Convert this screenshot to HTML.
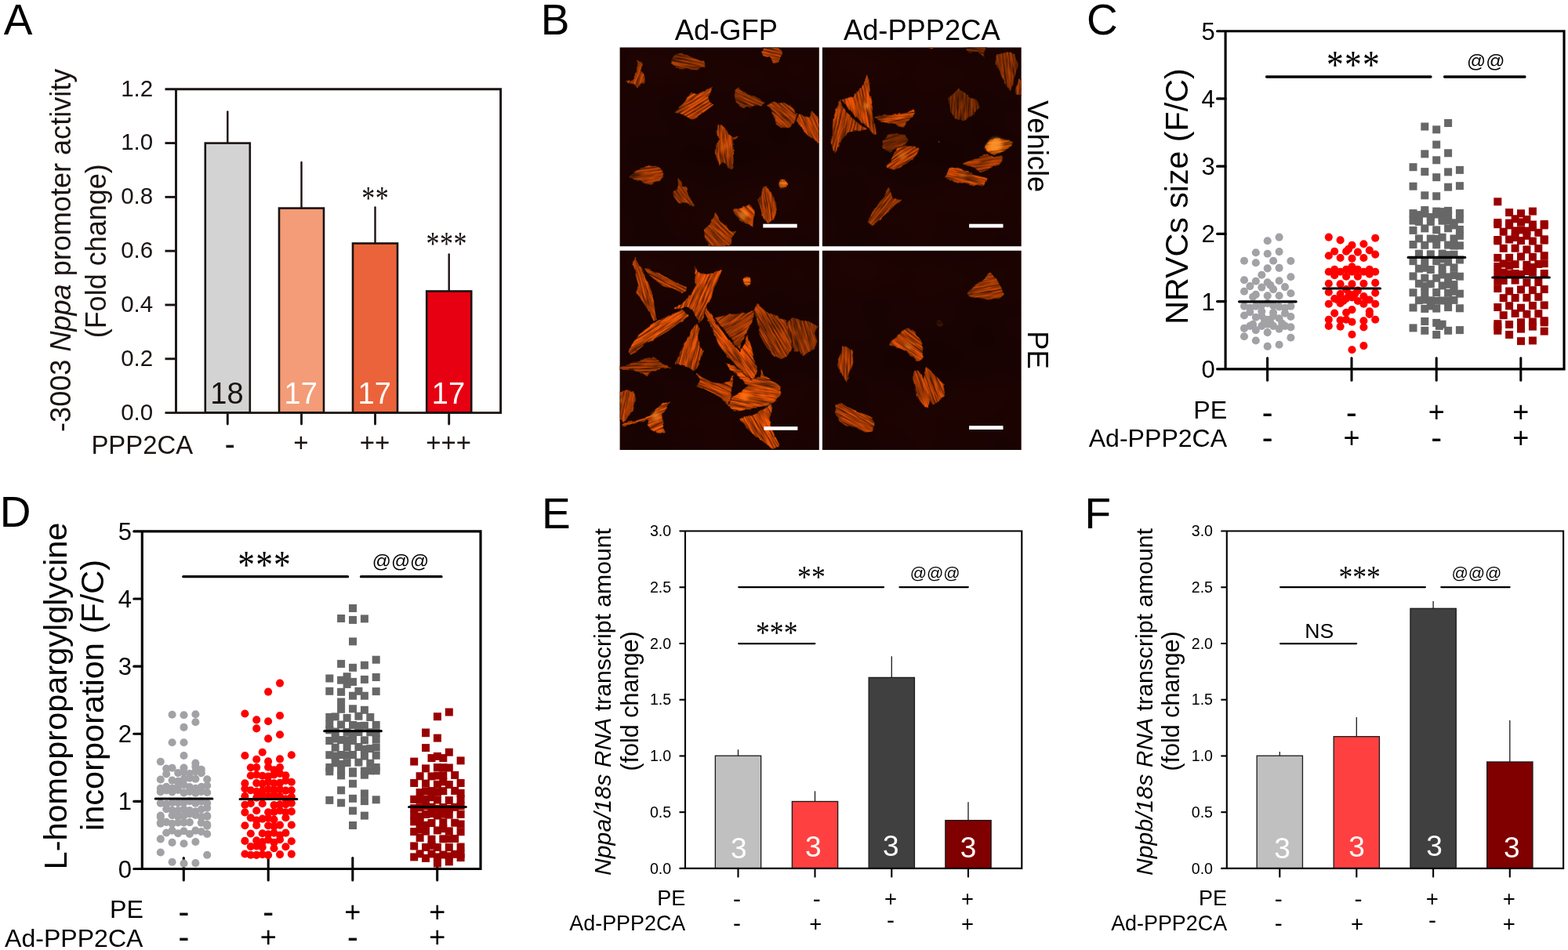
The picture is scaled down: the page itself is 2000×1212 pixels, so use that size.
<!DOCTYPE html>
<html><head><meta charset="utf-8"><title>Figure</title>
<style>
html,body{margin:0;padding:0;background:#fff;}
svg{display:block;font-family:"Liberation Sans", sans-serif;}
</style></head>
<body>
<svg width="2000" height="1212" viewBox="0 0 2000 1212">
<rect width="2000" height="1212" fill="#fff"/>
<text x="4.70" y="43.80" font-size="55" text-anchor="start" fill="#000">A</text>
<text x="689.70" y="43.60" font-size="55" text-anchor="start" fill="#000">B</text>
<text x="1386.00" y="44.30" font-size="55" text-anchor="start" fill="#000">C</text>
<text x="-0.30" y="672.20" font-size="55" text-anchor="start" fill="#000">D</text>
<text x="691.00" y="674.20" font-size="55" text-anchor="start" fill="#000">E</text>
<text x="1383.60" y="674.20" font-size="55" text-anchor="start" fill="#000">F</text>
<line x1="290.30" y1="142.50" x2="290.30" y2="182.60" stroke="#1a1311" stroke-width="2.4" stroke-linecap="round"/>
<rect x="261.80" y="182.60" width="57.00" height="344.00" fill="#d3d3d3" stroke="#1a1311" stroke-width="2.6"/>
<text x="289.50" y="515.20" font-size="38" text-anchor="middle" fill="#1a1311">18</text>
<line x1="384.50" y1="207.00" x2="384.50" y2="265.60" stroke="#1a1311" stroke-width="2.4" stroke-linecap="round"/>
<rect x="356.00" y="265.60" width="57.00" height="261.00" fill="#f39c77" stroke="#1a1311" stroke-width="2.6"/>
<text x="383.70" y="515.20" font-size="38" text-anchor="middle" fill="#fff">17</text>
<line x1="478.50" y1="264.50" x2="478.50" y2="310.50" stroke="#1a1311" stroke-width="2.4" stroke-linecap="round"/>
<rect x="450.00" y="310.50" width="57.00" height="216.10" fill="#eb633a" stroke="#1a1311" stroke-width="2.6"/>
<text x="477.70" y="515.20" font-size="38" text-anchor="middle" fill="#fff">17</text>
<line x1="572.70" y1="324.50" x2="572.70" y2="371.50" stroke="#1a1311" stroke-width="2.4" stroke-linecap="round"/>
<rect x="544.20" y="371.50" width="57.00" height="155.10" fill="#e60012" stroke="#1a1311" stroke-width="2.6"/>
<text x="571.90" y="515.20" font-size="38" text-anchor="middle" fill="#fff">17</text>
<path d="M210.5,113.75 H638.6 V526.6 H210.5 M224.5,113.75 V526.6" fill="none" stroke="#1a1311" stroke-width="2.9"/>
<line x1="210.50" y1="182.56" x2="224.50" y2="182.56" stroke="#1a1311" stroke-width="2.9" stroke-linecap="butt"/>
<line x1="210.50" y1="251.37" x2="224.50" y2="251.37" stroke="#1a1311" stroke-width="2.9" stroke-linecap="butt"/>
<line x1="210.50" y1="320.18" x2="224.50" y2="320.18" stroke="#1a1311" stroke-width="2.9" stroke-linecap="butt"/>
<line x1="210.50" y1="388.98" x2="224.50" y2="388.98" stroke="#1a1311" stroke-width="2.9" stroke-linecap="butt"/>
<line x1="210.50" y1="457.79" x2="224.50" y2="457.79" stroke="#1a1311" stroke-width="2.9" stroke-linecap="butt"/>
<text x="195.20" y="122.65" font-size="29.5" text-anchor="end" fill="#1a1311">1.2</text>
<text x="195.20" y="191.46" font-size="29.5" text-anchor="end" fill="#1a1311">1.0</text>
<text x="195.20" y="260.27" font-size="29.5" text-anchor="end" fill="#1a1311">0.8</text>
<text x="195.20" y="329.08" font-size="29.5" text-anchor="end" fill="#1a1311">0.6</text>
<text x="195.20" y="397.88" font-size="29.5" text-anchor="end" fill="#1a1311">0.4</text>
<text x="195.20" y="466.69" font-size="29.5" text-anchor="end" fill="#1a1311">0.2</text>
<text x="195.20" y="535.50" font-size="29.5" text-anchor="end" fill="#1a1311">0.0</text>
<line x1="290.30" y1="526.60" x2="290.30" y2="541.10" stroke="#1a1311" stroke-width="2.9" stroke-linecap="round"/>
<line x1="384.50" y1="526.60" x2="384.50" y2="541.10" stroke="#1a1311" stroke-width="2.9" stroke-linecap="round"/>
<line x1="478.50" y1="526.60" x2="478.50" y2="541.10" stroke="#1a1311" stroke-width="2.9" stroke-linecap="round"/>
<line x1="572.70" y1="526.60" x2="572.70" y2="541.10" stroke="#1a1311" stroke-width="2.9" stroke-linecap="round"/>
<text x="116.40" y="579.40" font-size="32.9" text-anchor="start" fill="#1a1311">PPP2CA</text>
<text x="293.30" y="579.72" font-size="37.9" text-anchor="middle" fill="#1a1311" stroke="#1a1311" stroke-width="0.40">-</text>
<text x="384.00" y="576.00" font-size="33" text-anchor="middle" fill="#1a1311">+</text>
<text x="478.00" y="576.00" font-size="33" text-anchor="middle" fill="#1a1311">++</text>
<text x="572.20" y="576.00" font-size="33" text-anchor="middle" fill="#1a1311">+++</text>
<text transform="translate(478.85 267.04) scale(1 1.25)" font-family="'Liberation Serif', serif" font-size="34" text-anchor="middle" fill="#1a1311" letter-spacing="0.5">**</text>
<text transform="translate(569.65 325.24) scale(1 1.25)" font-family="'Liberation Serif', serif" font-size="34" text-anchor="middle" fill="#1a1311" letter-spacing="0.5">***</text>
<text transform="translate(90.00 319.30) rotate(-90)" font-size="36.1" text-anchor="middle" fill="#1a1311">-3003 <tspan font-style="italic">Nppa</tspan> promoter activity</text>
<text transform="translate(134.60 320.30) rotate(-90)" font-size="36" text-anchor="middle" fill="#1a1311">(Fold change)</text>
<text x="926.40" y="51.30" font-size="36.3" text-anchor="middle" fill="#000">Ad-GFP</text>
<text x="1175.80" y="51.30" font-size="36.3" text-anchor="middle" fill="#000">Ad-PPP2CA</text>
<defs>
<filter id="cf" x="-8%" y="-8%" width="116%" height="116%" color-interpolation-filters="sRGB">
<feTurbulence type="fractalNoise" baseFrequency="0.09" numOctaves="2" seed="3" result="d"/>
<feDisplacementMap in="SourceGraphic" in2="d" scale="4.5" xChannelSelector="R" yChannelSelector="G" result="s"/>
<feGaussianBlur in="s" stdDeviation="0.55" result="b"/>
<feTurbulence type="fractalNoise" baseFrequency="0.035 0.5" numOctaves="3" seed="11" result="t"/>
<feColorMatrix in="t" type="matrix" values="2.1 0 0 0 -0.45  2.1 0 0 0 -0.45  2.1 0 0 0 -0.45  0 0 0 0 1" result="n"/>
<feComposite in="b" in2="n" operator="arithmetic" k1="0.7" k2="0.3" k3="0" k4="0"/>
</filter>
<filter id="bgf" x="0" y="0" width="100%" height="100%" color-interpolation-filters="sRGB">
<feTurbulence type="fractalNoise" baseFrequency="0.012" numOctaves="2" seed="5" result="t"/>
<feColorMatrix in="t" type="matrix" values="0.05 0 0 0 0.075  0.01 0 0 0 0.007  0.006 0 0 0 0.004  0 0 0 0 1"/>
</filter>
<filter id="hb" x="-50%" y="-50%" width="200%" height="200%"><feGaussianBlur stdDeviation="2.2"/></filter>
</defs>
<svg x="790.6" y="60.6" width="254.2" height="253.6" viewBox="-0.4 0.6 254.2 253.6" overflow="hidden">
<rect x="-2" y="-2" width="260" height="260" fill="#1a0302" filter="url(#bgf)"/>
<g transform="rotate(-70 21.5 38.2)" filter="url(#cf)"><polygon transform="rotate(70 21.5 38.2)" points="21.0,17.8 28.3,18.9 27.2,29.3 32.5,36.7 31.4,45.1 25.1,47.2 22.0,53.4 17.8,47.2 8.4,46.1 7.3,44.0 15.7,40.9 21.0,31.4" fill="#d64b05" stroke="#0c0100" stroke-width="1.6" stroke-linejoin="round" paint-order="stroke"/></g>
<g transform="rotate(11 84.2 19.6)" filter="url(#cf)"><polygon transform="rotate(-11 84.2 19.6)" points="65.0,15.7 70.2,9.4 78.6,7.3 90.1,12.6 109.0,19.9 109.0,26.2 98.5,28.3 83.8,27.2 72.3,27.2 66.0,22.0" fill="#b23f04" stroke="#0c0100" stroke-width="1.6" stroke-linejoin="round" paint-order="stroke"/></g>
<g transform="rotate(16 192.8 10.1)" filter="url(#cf)"><polygon transform="rotate(-16 192.8 10.1)" points="182.3,1.0 202.2,1.0 206.4,8.4 202.2,18.9 195.9,19.9 190.7,13.6 182.3,11.5 180.2,6.3" fill="#d64b05" stroke="#0c0100" stroke-width="1.6" stroke-linejoin="round" paint-order="stroke"/></g>
<g transform="rotate(-32 98.5 73.2)" filter="url(#cf)"><polygon transform="rotate(32 98.5 73.2)" points="69.2,82.8 80.7,71.3 91.2,57.6 98.5,59.7 118.4,50.3 113.2,62.9 114.2,70.2 119.5,73.3 109.0,81.7 98.5,90.1 90.1,92.2 79.6,85.9" fill="#ee5406" stroke="#0c0100" stroke-width="1.6" stroke-linejoin="round" paint-order="stroke"/></g>
<g transform="rotate(24 161.4 65.8)" filter="url(#cf)"><polygon transform="rotate(-24 161.4 65.8)" points="146.7,54.5 150.9,51.3 156.1,56.6 167.7,60.8 178.1,66.0 184.4,72.3 178.1,75.4 165.6,77.5 154.0,76.5 147.7,70.2 145.7,62.9" fill="#be4304" stroke="#0c0100" stroke-width="1.6" stroke-linejoin="round" paint-order="stroke"/></g>
<g transform="rotate(40 206.7 85.9)" filter="url(#cf)"><polygon transform="rotate(-40 206.7 85.9)" points="187.6,73.3 197.0,70.2 209.6,71.3 220.0,77.5 226.3,85.9 222.1,94.3 216.9,102.7 206.4,103.7 199.1,98.5 195.9,88.0 192.8,79.6" fill="#ca4705" stroke="#0c0100" stroke-width="1.6" stroke-linejoin="round" paint-order="stroke"/></g>
<g transform="rotate(66 240.5 98.4)" filter="url(#cf)"><polygon transform="rotate(-66 240.5 98.4)" points="224.2,94.3 228.4,84.9 241.0,90.1 244.2,80.7 254.0,92.2 254.0,123.6 243.1,114.2 234.7,106.9" fill="#e24f05" stroke="#0c0100" stroke-width="1.6" stroke-linejoin="round" paint-order="stroke"/></g>
<g transform="rotate(85 134.6 126.5)" filter="url(#cf)"><polygon transform="rotate(-85 134.6 126.5)" points="124.7,98.5 129.9,100.6 138.3,111.1 144.6,115.3 151.9,113.2 144.6,119.5 143.6,129.9 144.6,142.5 143.6,156.1 138.3,154.0 131.0,146.7 125.7,150.9 121.6,136.2 122.6,125.7 125.7,117.4 123.6,106.9" fill="#d64b05" stroke="#0c0100" stroke-width="1.6" stroke-linejoin="round" paint-order="stroke"/></g>
<g transform="rotate(-8 36.0 163.2)" filter="url(#cf)"><polygon transform="rotate(8 36.0 163.2)" points="11.5,164.5 21.0,157.2 33.5,150.9 46.1,150.9 53.4,156.1 55.5,162.4 51.3,170.8 38.8,176.0 29.3,172.9 19.9,169.8" fill="#ca4705" stroke="#0c0100" stroke-width="1.6" stroke-linejoin="round" paint-order="stroke"/></g>
<g transform="rotate(57 81.1 187.7)" filter="url(#cf)"><polygon transform="rotate(-57 81.1 187.7)" points="73.3,166.6 78.6,171.8 79.6,178.1 84.9,178.1 87.0,188.6 91.2,195.9 97.5,202.2 94.3,204.3 83.8,199.1 74.4,199.1 68.1,191.8 67.1,184.4 74.4,180.2" fill="#be4304" stroke="#0c0100" stroke-width="1.6" stroke-linejoin="round" paint-order="stroke"/></g>
<circle cx="207.9" cy="174.4" r="5.4" fill="#ff6006" filter="url(#cf)"/>
<g transform="rotate(82 187.5 200.1)" filter="url(#cf)"><polygon transform="rotate(-82 187.5 200.1)" points="182.3,176.0 187.6,178.1 192.8,188.6 199.1,197.0 200.1,207.5 194.9,220.0 188.6,225.3 182.3,218.0 179.2,207.5 175.0,194.9 180.2,188.6" fill="#e24f05" stroke="#0c0100" stroke-width="1.6" stroke-linejoin="round" paint-order="stroke"/></g>
<g transform="rotate(43 159.5 214.3)" filter="url(#cf)"><polygon transform="rotate(-43 159.5 214.3)" points="143.6,207.5 155.1,204.3 165.6,200.1 169.8,207.5 170.8,220.0 169.8,229.5 161.4,226.3 153.0,220.0 146.7,213.8" fill="#f95806" stroke="#0c0100" stroke-width="1.6" stroke-linejoin="round" paint-order="stroke"/></g>
<g transform="rotate(45 126.2 232.4)" filter="url(#cf)"><polygon transform="rotate(-45 126.2 232.4)" points="121.6,209.6 125.7,218.0 131.0,225.3 134.1,226.3 138.3,234.7 147.7,235.8 142.5,243.1 139.4,254.0 113.2,254.0 107.9,243.1 106.9,232.6 114.2,226.3 118.4,218.0" fill="#d64b05" stroke="#0c0100" stroke-width="1.6" stroke-linejoin="round" paint-order="stroke"/></g>
<g filter="url(#hb)"><circle cx="157.2" cy="213.8" r="5.9" fill="#ff9c2e" opacity="0.55"/><circle cx="134.1" cy="127.8" r="3.8" fill="#ff9c2e" opacity="0.3"/><circle cx="207.9" cy="174.4" r="3.8" fill="#ff9c2e" opacity="0.5"/></g>
<rect x="182.3" y="225.7" width="43.4" height="4.8" fill="#fff"/>
</svg>
<svg x="1048.9" y="60.6" width="253.8" height="253.6" viewBox="-1.1 0.6 253.8 253.6" overflow="hidden">
<rect x="-2" y="-2" width="260" height="260" fill="#1a0302" filter="url(#bgf)"/>
<g transform="rotate(80 50.6 74.6)" filter="url(#cf)"><polygon transform="rotate(-80 50.6 74.6)" points="55.5,34.6 58.7,41.9 59.7,62.9 62.9,79.6 68.1,111.1 65.0,112.1 54.5,100.6 41.9,90.1 31.4,79.6 24.1,67.1 37.7,62.9 48.2,52.4" fill="#ee5406" stroke="#0c0100" stroke-width="1.6" stroke-linejoin="round" paint-order="stroke"/></g>
<g transform="rotate(-78 25.7 103.2)" filter="url(#cf)"><polygon transform="rotate(78 25.7 103.2)" points="22.0,65.0 26.2,77.5 34.6,88.0 41.9,96.4 56.6,104.8 41.9,106.9 31.4,109.0 23.1,119.5 18.9,129.9 13.6,137.3 10.5,125.7 10.5,111.1 12.6,92.2 15.7,81.7" fill="#d64b05" stroke="#0c0100" stroke-width="1.6" stroke-linejoin="round" paint-order="stroke"/></g>
<g transform="rotate(-8 93.2 90.1)" filter="url(#cf)"><polygon transform="rotate(8 93.2 90.1)" points="66.0,89.1 77.5,85.9 94.3,85.9 106.9,83.8 115.3,78.6 117.4,83.8 109.0,94.3 101.6,101.6 90.1,98.5 77.5,96.4 69.2,93.3" fill="#ee5406" stroke="#0c0100" stroke-width="1.6" stroke-linejoin="round" paint-order="stroke"/></g>
<g transform="rotate(-18 91.2 121.3)" filter="url(#cf)"><polygon transform="rotate(18 91.2 121.3)" points="75.4,119.5 81.7,112.1 94.3,110.0 104.8,112.1 109.0,119.5 102.7,125.7 92.2,129.9 83.8,134.1 76.5,128.9" fill="#8e3203" stroke="#0c0100" stroke-width="1.6" stroke-linejoin="round" paint-order="stroke"/></g>
<g transform="rotate(-33 100.6 140.8)" filter="url(#cf)"><polygon transform="rotate(33 100.6 140.8)" points="92.2,129.9 104.8,125.7 117.4,125.7 122.6,129.9 119.5,136.2 113.2,144.6 104.8,150.9 92.2,156.1 83.8,155.1 80.7,154.0 85.9,144.6 90.1,136.2" fill="#e24f05" stroke="#0c0100" stroke-width="1.6" stroke-linejoin="round" paint-order="stroke"/></g>
<g transform="rotate(-88 178.6 75.4)" filter="url(#cf)"><polygon transform="rotate(88 178.6 75.4)" points="172.9,52.4 182.3,59.7 193.9,67.1 200.1,77.5 189.7,88.0 178.1,93.3 167.7,92.2 162.4,83.8 160.3,65.0" fill="#933403" stroke="#0c0100" stroke-width="1.6" stroke-linejoin="round" paint-order="stroke"/></g>
<g transform="rotate(82 235.0 28.7)" filter="url(#cf)"><polygon transform="rotate(-82 235.0 28.7)" points="222.1,9.4 234.7,6.3 245.2,10.5 249.4,21.0 245.2,35.6 241.0,48.2 237.9,57.6 231.6,46.1 224.2,31.4 219.0,21.0" fill="#a63a04" stroke="#0c0100" stroke-width="1.6" stroke-linejoin="round" paint-order="stroke"/></g>
<g transform="rotate(-88 249.8 51.1)" filter="url(#cf)"><polygon transform="rotate(88 249.8 51.1)" points="249.4,40.9 254.0,44.0 254.0,62.9 244.2,57.6 247.3,50.3" fill="#be4304" stroke="#0c0100" stroke-width="1.6" stroke-linejoin="round" paint-order="stroke"/></g>
<g transform="rotate(9 195.8 5.1)" filter="url(#cf)"><polygon transform="rotate(-9 195.8 5.1)" points="180.2,2.1 188.6,0.0 207.5,0.0 204.3,6.3 206.4,12.6 197.0,7.3 186.5,7.3" fill="#8e3203" stroke="#0c0100" stroke-width="1.6" stroke-linejoin="round" paint-order="stroke"/></g>
<circle cx="137.3" cy="1.3" r="2.3" fill="#d64b05" filter="url(#cf)"/>
<g transform="rotate(-9 220.9 126.3)" filter="url(#cf)"><polygon transform="rotate(9 220.9 126.3)" points="206.4,125.7 211.7,119.5 220.0,115.3 230.5,117.4 243.1,121.6 236.8,128.9 228.4,134.1 218.0,137.3 209.6,134.1 204.3,128.9" fill="#ff6907" stroke="#0c0100" stroke-width="1.6" stroke-linejoin="round" paint-order="stroke"/></g>
<g transform="rotate(-10 205.0 147.0)" filter="url(#cf)"><polygon transform="rotate(10 205.0 147.0)" points="177.1,148.8 188.6,144.6 201.2,139.4 209.6,136.2 218.0,140.4 228.4,138.3 229.5,144.6 222.1,150.9 209.6,156.1 199.1,159.3 192.8,154.0 184.4,150.9" fill="#ca4705" stroke="#0c0100" stroke-width="1.6" stroke-linejoin="round" paint-order="stroke"/></g>
<g transform="rotate(13 182.5 166.2)" filter="url(#cf)"><polygon transform="rotate(-13 182.5 166.2)" points="156.1,165.6 161.4,153.0 171.8,155.1 184.4,159.3 199.1,163.5 209.6,167.7 206.4,176.0 192.8,177.1 178.1,173.9 165.6,170.8" fill="#ee5406" stroke="#0c0100" stroke-width="1.6" stroke-linejoin="round" paint-order="stroke"/></g>
<g transform="rotate(-51 78.7 202.5)" filter="url(#cf)"><polygon transform="rotate(51 78.7 202.5)" points="83.8,179.2 88.0,186.5 90.1,192.8 100.6,194.9 92.2,201.2 83.8,209.6 73.3,219.0 62.9,228.4 56.6,223.2 62.9,209.6 71.3,197.0 78.6,188.6" fill="#be4304" stroke="#0c0100" stroke-width="1.6" stroke-linejoin="round" paint-order="stroke"/></g>
<circle cx="147.7" cy="120.7" r="1.0" fill="#d64b05" filter="url(#cf)"/>
<g filter="url(#hb)"><circle cx="220.0" cy="124.7" r="8.4" fill="#ff9c2e" opacity="0.8"/><circle cx="211.7" cy="127.8" r="4.2" fill="#ff9c2e" opacity="0.5"/><circle cx="54.9" cy="75.0" r="3.4" fill="#ff9c2e" opacity="0.7"/><circle cx="100.6" cy="138.3" r="5.2" fill="#ff9c2e" opacity="0.35"/><circle cx="178.1" cy="163.5" r="4.2" fill="#ff9c2e" opacity="0.3"/></g>
<rect x="186.1" y="225.7" width="43.4" height="4.8" fill="#fff"/>
</svg>
<svg x="790.6" y="319.8" width="254.2" height="254.1" viewBox="-0.4 -0.2 254.2 254.1" overflow="hidden">
<rect x="-2" y="-2" width="260" height="260" fill="#1a0302" filter="url(#bgf)"/>
<g transform="rotate(73 30.4 49.9)" filter="url(#cf)"><polygon transform="rotate(-73 30.4 49.9)" points="18.9,6.3 23.1,14.7 29.3,27.2 35.6,39.8 40.9,54.5 44.0,71.3 46.1,88.0 43.0,90.1 37.7,79.6 31.4,69.2 26.2,60.8 19.9,52.4 23.1,44.0 19.9,31.4 16.8,18.9" fill="#ee5406" stroke="#0c0100" stroke-width="1.6" stroke-linejoin="round" paint-order="stroke"/></g>
<g transform="rotate(27 58.5 38.8)" filter="url(#cf)"><polygon transform="rotate(-27 58.5 38.8)" points="30.4,22.0 37.7,23.1 54.5,31.4 71.3,40.9 83.8,46.1 84.9,50.3 79.6,53.4 67.1,48.2 54.5,45.1 44.0,36.7 35.6,29.3" fill="#d64b05" stroke="#0c0100" stroke-width="1.6" stroke-linejoin="round" paint-order="stroke"/></g>
<g transform="rotate(-67 100.6 55.9)" filter="url(#cf)"><polygon transform="rotate(67 100.6 55.9)" points="93.3,18.9 98.5,25.1 106.9,30.4 119.5,28.3 131.0,23.1 125.7,35.6 119.5,48.2 116.3,60.8 111.1,69.2 109.0,79.6 104.8,88.0 100.6,92.2 96.4,83.8 92.2,75.4 83.8,72.3 75.4,73.3 68.1,73.3 79.6,65.0 90.1,56.6 96.4,44.0 95.4,31.4" fill="#f95806" stroke="#0c0100" stroke-width="1.6" stroke-linejoin="round" paint-order="stroke"/></g>
<g transform="rotate(-34 46.8 102.6)" filter="url(#cf)"><polygon transform="rotate(34 46.8 102.6)" points="79.6,75.4 88.0,80.7 83.8,85.9 73.3,93.3 60.8,102.7 46.1,111.1 31.4,119.5 18.9,129.9 12.6,133.1 11.5,127.8 15.7,117.4 21.0,109.0 31.4,100.6 44.0,92.2 58.7,83.8 71.3,78.6" fill="#ff5c06" stroke="#0c0100" stroke-width="1.6" stroke-linejoin="round" paint-order="stroke"/></g>
<g transform="rotate(-76 91.4 126.7)" filter="url(#cf)"><polygon transform="rotate(76 91.4 126.7)" points="96.4,93.3 100.6,100.6 99.5,111.1 102.7,121.6 106.9,127.8 102.7,136.2 100.6,146.7 94.3,154.0 88.0,148.8 79.6,144.6 69.2,144.6 73.3,136.2 79.6,123.6 85.9,111.1 91.2,100.6" fill="#ee5406" stroke="#0c0100" stroke-width="1.6" stroke-linejoin="round" paint-order="stroke"/></g>
<g transform="rotate(-34 149.6 95.5)" filter="url(#cf)"><polygon transform="rotate(34 149.6 95.5)" points="119.5,85.9 134.1,81.7 150.9,79.6 165.6,78.6 172.9,76.5 169.8,88.0 163.5,100.6 157.2,113.2 153.0,125.7 144.6,117.4 136.2,104.8 127.8,94.3" fill="#ca4705" stroke="#0c0100" stroke-width="1.6" stroke-linejoin="round" paint-order="stroke"/></g>
<g transform="rotate(53 142.2 119.4)" filter="url(#cf)"><polygon transform="rotate(-53 142.2 119.4)" points="107.9,72.3 113.2,77.5 121.6,90.1 132.0,104.8 142.5,119.5 153.0,127.8 159.3,117.4 162.4,106.9 167.7,123.6 170.8,136.2 173.9,150.9 171.8,165.6 163.5,167.7 155.1,155.1 146.7,144.6 136.2,134.1 125.7,119.5 119.5,104.8 113.2,90.1 107.9,79.6" fill="#f95806" stroke="#0c0100" stroke-width="1.6" stroke-linejoin="round" paint-order="stroke"/></g>
<g transform="rotate(60 195.0 103.1)" filter="url(#cf)"><polygon transform="rotate(-60 195.0 103.1)" points="173.9,67.1 180.2,72.3 188.6,79.6 201.2,83.8 211.7,90.1 215.9,100.6 220.0,113.2 219.0,125.7 213.8,134.1 205.4,138.3 197.0,134.1 188.6,125.7 182.3,115.3 176.0,102.7 173.9,90.1 171.8,77.5" fill="#ca4705" stroke="#0c0100" stroke-width="1.6" stroke-linejoin="round" paint-order="stroke"/></g>
<g transform="rotate(74 232.1 109.9)" filter="url(#cf)"><polygon transform="rotate(-74 232.1 109.9)" points="211.7,92.2 220.0,84.9 230.5,88.0 241.0,90.1 252.5,96.4 247.3,104.8 250.4,115.3 248.3,125.7 241.0,127.8 232.6,136.2 228.4,127.8 222.1,129.9 219.0,119.5 220.0,109.0 215.9,100.6" fill="#b23f04" stroke="#0c0100" stroke-width="1.6" stroke-linejoin="round" paint-order="stroke"/></g>
<g transform="rotate(-2 30.6 148.9)" filter="url(#cf)"><polygon transform="rotate(2 30.6 148.9)" points="0.0,147.7 12.6,144.6 25.1,139.4 44.0,136.2 50.3,142.5 65.0,148.8 52.4,150.9 39.8,154.0 33.5,161.4 27.2,157.2 16.8,151.9 0.0,151.9" fill="#be4304" stroke="#0c0100" stroke-width="1.6" stroke-linejoin="round" paint-order="stroke"/></g>
<g transform="rotate(24 123.6 173.9)" filter="url(#cf)"><polygon transform="rotate(-24 123.6 173.9)" points="96.4,156.1 104.8,161.4 117.4,167.7 129.9,169.8 138.3,165.6 145.7,158.2 142.5,169.8 141.5,182.3 144.6,192.8 138.3,199.1 129.9,188.6 119.5,182.3 106.9,176.0 97.5,172.9 101.6,165.6" fill="#ee5406" stroke="#0c0100" stroke-width="1.6" stroke-linejoin="round" paint-order="stroke"/></g>
<g transform="rotate(11 166.8 174.5)" filter="url(#cf)"><polygon transform="rotate(-11 166.8 174.5)" points="134.1,144.6 146.7,146.7 159.3,159.3 167.7,165.6 178.1,161.4 180.2,150.9 184.4,159.3 194.9,165.6 204.3,171.8 205.4,182.3 197.0,192.8 184.4,199.1 167.7,201.2 155.1,204.3 144.6,205.4 138.3,197.0 142.5,186.5 155.1,180.2 163.5,171.8 155.1,163.5 144.6,155.1" fill="#ff5c06" stroke="#0c0100" stroke-width="1.6" stroke-linejoin="round" paint-order="stroke"/></g>
<g transform="rotate(-82 9.6 197.7)" filter="url(#cf)"><polygon transform="rotate(82 9.6 197.7)" points="0.0,180.2 8.4,178.1 16.8,180.2 19.9,190.7 16.8,203.3 10.5,213.8 4.2,219.0 0.0,215.9" fill="#e24f05" stroke="#0c0100" stroke-width="1.6" stroke-linejoin="round" paint-order="stroke"/></g>
<g transform="rotate(-22 39.8 215.3)" filter="url(#cf)"><polygon transform="rotate(22 39.8 215.3)" points="62.9,191.8 58.7,201.2 54.5,209.6 55.5,222.1 56.6,232.6 48.2,233.7 39.8,228.4 34.6,222.1 36.7,215.9 21.0,220.0 3.1,223.2 4.2,220.0 23.1,215.9 37.7,211.7 46.1,201.2 54.5,194.9" fill="#ff5c06" stroke="#0c0100" stroke-width="1.6" stroke-linejoin="round" paint-order="stroke"/></g>
<g transform="rotate(61 182.4 222.3)" filter="url(#cf)"><polygon transform="rotate(-61 182.4 222.3)" points="190.7,194.9 194.9,201.2 190.7,213.8 192.8,226.3 199.1,238.9 204.3,249.4 194.9,251.5 182.3,243.1 169.8,234.7 159.3,224.2 153.0,213.8 163.5,211.7 173.9,207.5 184.4,201.2" fill="#f95806" stroke="#0c0100" stroke-width="1.6" stroke-linejoin="round" paint-order="stroke"/></g>
<circle cx="161.8" cy="38.8" r="5.7" fill="#ff5c06" filter="url(#cf)"/>
<g filter="url(#hb)"><circle cx="45.1" cy="210.6" r="5.0" fill="#ff9c2e" opacity="0.6"/><circle cx="189.7" cy="197.0" r="2.1" fill="#ff9c2e" opacity="0.7"/><circle cx="159.3" cy="186.5" r="5.2" fill="#ff9c2e" opacity="0.35"/><circle cx="161.8" cy="38.8" r="3.8" fill="#ff9c2e" opacity="0.4"/><circle cx="1.0" cy="191.8" r="2.5" fill="#ff9c2e" opacity="0.5"/></g>
<rect x="183.4" y="224.2" width="43.0" height="4.6" fill="#fff"/>
</svg>
<svg x="1048.9" y="319.8" width="253.8" height="254.1" viewBox="-1.1 -0.2 253.8 254.1" overflow="hidden">
<rect x="-2" y="-2" width="260" height="260" fill="#1a0302" filter="url(#bgf)"/>
<g transform="rotate(-10 207.3 49.7)" filter="url(#cf)"><polygon transform="rotate(10 207.3 49.7)" points="213.8,27.2 219.0,34.6 226.3,47.2 231.6,56.6 225.3,60.8 209.6,61.8 194.9,59.7 185.5,58.7 182.3,54.5 190.7,47.2 201.2,38.8" fill="#ca4705" stroke="#0c0100" stroke-width="1.6" stroke-linejoin="round" paint-order="stroke"/></g>
<g transform="rotate(36 108.2 119.2)" filter="url(#cf)"><polygon transform="rotate(-36 108.2 119.2)" points="109.0,97.5 117.4,103.7 123.6,113.2 127.8,125.7 127.8,136.2 119.5,140.4 113.2,134.1 104.8,127.8 96.4,123.6 83.8,120.5 85.9,116.3 94.3,109.0 102.7,101.6" fill="#e24f05" stroke="#0c0100" stroke-width="1.6" stroke-linejoin="round" paint-order="stroke"/></g>
<g transform="rotate(-90 27.9 143.6)" filter="url(#cf)"><polygon transform="rotate(90 27.9 143.6)" points="24.1,122.6 31.4,121.6 36.7,127.8 38.8,142.5 34.6,150.9 32.5,161.4 29.3,166.6 25.1,161.4 22.0,153.0 16.8,146.7 19.9,138.3 23.1,129.9" fill="#d64b05" stroke="#0c0100" stroke-width="1.6" stroke-linejoin="round" paint-order="stroke"/></g>
<g transform="rotate(70 133.1 174.7)" filter="url(#cf)"><polygon transform="rotate(-70 133.1 174.7)" points="131.0,147.7 138.3,154.0 146.7,162.4 155.1,171.8 154.0,184.4 146.7,192.8 140.4,197.0 136.2,190.7 134.1,200.1 128.9,199.1 121.6,188.6 116.3,173.9 114.2,161.4 116.3,154.0 121.6,153.0 127.8,163.5" fill="#e24f05" stroke="#0c0100" stroke-width="1.6" stroke-linejoin="round" paint-order="stroke"/></g>
<g transform="rotate(28 39.6 213.4)" filter="url(#cf)"><polygon transform="rotate(-28 39.6 213.4)" points="15.7,195.9 25.1,193.9 35.6,201.2 48.2,206.4 60.8,211.7 66.0,219.0 62.9,230.5 54.5,231.6 41.9,226.3 29.3,222.1 19.9,215.9 14.7,206.4" fill="#e24f05" stroke="#0c0100" stroke-width="1.6" stroke-linejoin="round" paint-order="stroke"/></g>
<circle cx="148.2" cy="92.2" r="3.8" fill="#471901" filter="url(#cf)"/>
<g filter="url(#hb)"><circle cx="109.0" cy="121.6" r="5.2" fill="#ff9c2e" opacity="0.3"/></g>
<rect x="186.1" y="223.2" width="43.4" height="4.8" fill="#fff"/>
</svg>
<text transform="translate(1310.50 186.60) rotate(90)" font-size="36.3" text-anchor="middle" fill="#000">Vehicle</text>
<text transform="translate(1310.50 446.50) rotate(90)" font-size="36.3" text-anchor="middle" fill="#000">PE</text>
<path d="M1552.6,39.7 H1995 V470.8 H1552.6 M1563.1,39.7 V470.8" fill="none" stroke="#000" stroke-width="3.15" stroke-linecap="round"/>
<line x1="1552.60" y1="125.92" x2="1563.10" y2="125.92" stroke="#000" stroke-width="3.15" stroke-linecap="round"/>
<line x1="1552.60" y1="212.14" x2="1563.10" y2="212.14" stroke="#000" stroke-width="3.15" stroke-linecap="round"/>
<line x1="1552.60" y1="298.36" x2="1563.10" y2="298.36" stroke="#000" stroke-width="3.15" stroke-linecap="round"/>
<line x1="1552.60" y1="384.58" x2="1563.10" y2="384.58" stroke="#000" stroke-width="3.15" stroke-linecap="round"/>
<text x="1549.80" y="50.70" font-size="31" text-anchor="end" fill="#000">5</text>
<text x="1549.80" y="136.92" font-size="31" text-anchor="end" fill="#000">4</text>
<text x="1549.80" y="223.14" font-size="31" text-anchor="end" fill="#000">3</text>
<text x="1549.80" y="309.36" font-size="31" text-anchor="end" fill="#000">2</text>
<text x="1549.80" y="395.58" font-size="31" text-anchor="end" fill="#000">1</text>
<text x="1549.80" y="481.80" font-size="31" text-anchor="end" fill="#000">0</text>
<line x1="1616.60" y1="456.80" x2="1616.60" y2="485.30" stroke="#000" stroke-width="3.05" stroke-linecap="round"/>
<line x1="1724.00" y1="456.80" x2="1724.00" y2="485.30" stroke="#000" stroke-width="3.05" stroke-linecap="round"/>
<line x1="1832.20" y1="456.80" x2="1832.20" y2="485.30" stroke="#000" stroke-width="3.05" stroke-linecap="round"/>
<line x1="1939.80" y1="456.80" x2="1939.80" y2="485.30" stroke="#000" stroke-width="3.05" stroke-linecap="round"/>
<g fill="#a2a2a6"><circle cx="1631.6" cy="302.6" r="5.05"/><circle cx="1616.7" cy="307.2" r="5.05"/><circle cx="1601.8" cy="322.3" r="5.05"/><circle cx="1616.7" cy="323.8" r="5.05"/><circle cx="1631.6" cy="321.1" r="5.05"/><circle cx="1587.0" cy="332.7" r="5.05"/><circle cx="1601.8" cy="335.3" r="5.05"/><circle cx="1624.1" cy="332.7" r="5.05"/><circle cx="1646.4" cy="333.0" r="5.05"/><circle cx="1616.7" cy="342.4" r="5.05"/><circle cx="1631.6" cy="341.9" r="5.05"/><circle cx="1609.3" cy="350.8" r="5.05"/><circle cx="1587.0" cy="357.2" r="5.05"/><circle cx="1601.8" cy="358.7" r="5.05"/><circle cx="1616.7" cy="360.2" r="5.05"/><circle cx="1631.6" cy="358.3" r="5.05"/><circle cx="1646.4" cy="353.2" r="5.05"/><circle cx="1594.4" cy="365.1" r="5.05"/><circle cx="1609.3" cy="366.6" r="5.05"/><circle cx="1620.4" cy="363.9" r="5.05"/><circle cx="1624.1" cy="369.1" r="5.05"/><circle cx="1639.0" cy="366.1" r="5.05"/><circle cx="1587.0" cy="371.8" r="5.05"/><circle cx="1601.8" cy="375.8" r="5.05"/><circle cx="1616.7" cy="377.3" r="5.05"/><circle cx="1631.6" cy="377.3" r="5.05"/><circle cx="1646.4" cy="374.3" r="5.05"/><circle cx="1598.1" cy="378.8" r="5.05"/><circle cx="1587.0" cy="390.6" r="5.05"/><circle cx="1594.4" cy="392.9" r="5.05"/><circle cx="1601.8" cy="390.6" r="5.05"/><circle cx="1609.3" cy="389.2" r="5.05"/><circle cx="1616.7" cy="386.9" r="5.05"/><circle cx="1624.1" cy="389.9" r="5.05"/><circle cx="1631.6" cy="391.4" r="5.05"/><circle cx="1639.0" cy="392.9" r="5.05"/><circle cx="1646.4" cy="390.6" r="5.05"/><circle cx="1594.4" cy="398.1" r="5.05"/><circle cx="1609.3" cy="397.3" r="5.05"/><circle cx="1624.1" cy="398.8" r="5.05"/><circle cx="1639.0" cy="399.6" r="5.05"/><circle cx="1587.0" cy="402.5" r="5.05"/><circle cx="1601.8" cy="404.8" r="5.05"/><circle cx="1616.7" cy="407.7" r="5.05"/><circle cx="1631.6" cy="406.2" r="5.05"/><circle cx="1646.4" cy="404.0" r="5.05"/><circle cx="1609.3" cy="403.3" r="5.05"/><circle cx="1624.1" cy="403.3" r="5.05"/><circle cx="1613.0" cy="410.0" r="5.05"/><circle cx="1620.4" cy="411.4" r="5.05"/><circle cx="1598.1" cy="413.7" r="5.05"/><circle cx="1635.3" cy="412.9" r="5.05"/><circle cx="1587.0" cy="418.9" r="5.05"/><circle cx="1594.4" cy="415.9" r="5.05"/><circle cx="1601.8" cy="421.1" r="5.05"/><circle cx="1609.3" cy="415.9" r="5.05"/><circle cx="1616.7" cy="413.7" r="5.05"/><circle cx="1624.1" cy="415.9" r="5.05"/><circle cx="1631.6" cy="419.6" r="5.05"/><circle cx="1639.0" cy="415.9" r="5.05"/><circle cx="1646.4" cy="417.4" r="5.05"/><circle cx="1616.7" cy="424.1" r="5.05"/><circle cx="1587.0" cy="429.3" r="5.05"/><circle cx="1646.4" cy="430.8" r="5.05"/><circle cx="1601.8" cy="434.5" r="5.05"/><circle cx="1631.6" cy="439.7" r="5.05"/><circle cx="1616.7" cy="441.9" r="5.05"/></g>
<g fill="#ff0000"><circle cx="1694.8" cy="302.6" r="5.05"/><circle cx="1694.8" cy="326.3" r="5.05"/><circle cx="1694.8" cy="346.8" r="5.05"/><circle cx="1694.8" cy="361.7" r="5.05"/><circle cx="1694.8" cy="372.8" r="5.05"/><circle cx="1694.8" cy="387.7" r="5.05"/><circle cx="1694.8" cy="407.7" r="5.05"/><circle cx="1694.8" cy="415.9" r="5.05"/><circle cx="1702.2" cy="320.8" r="5.05"/><circle cx="1702.2" cy="343.9" r="5.05"/><circle cx="1702.2" cy="351.3" r="5.05"/><circle cx="1702.2" cy="381.0" r="5.05"/><circle cx="1702.2" cy="399.6" r="5.05"/><circle cx="1709.6" cy="306.4" r="5.05"/><circle cx="1709.6" cy="329.0" r="5.05"/><circle cx="1709.6" cy="346.8" r="5.05"/><circle cx="1709.6" cy="362.4" r="5.05"/><circle cx="1709.6" cy="375.1" r="5.05"/><circle cx="1709.6" cy="386.9" r="5.05"/><circle cx="1709.6" cy="408.5" r="5.05"/><circle cx="1709.6" cy="416.6" r="5.05"/><circle cx="1717.1" cy="320.8" r="5.05"/><circle cx="1717.1" cy="343.9" r="5.05"/><circle cx="1717.1" cy="352.8" r="5.05"/><circle cx="1717.1" cy="369.1" r="5.05"/><circle cx="1717.1" cy="381.0" r="5.05"/><circle cx="1717.1" cy="398.8" r="5.05"/><circle cx="1717.1" cy="407.7" r="5.05"/><circle cx="1724.5" cy="312.7" r="5.05"/><circle cx="1724.5" cy="329.8" r="5.05"/><circle cx="1724.5" cy="340.2" r="5.05"/><circle cx="1724.5" cy="346.8" r="5.05"/><circle cx="1724.5" cy="362.4" r="5.05"/><circle cx="1724.5" cy="379.5" r="5.05"/><circle cx="1724.5" cy="395.1" r="5.05"/><circle cx="1724.5" cy="410.7" r="5.05"/><circle cx="1724.5" cy="426.7" r="5.05"/><circle cx="1724.5" cy="446.3" r="5.05"/><circle cx="1731.9" cy="321.6" r="5.05"/><circle cx="1731.9" cy="343.9" r="5.05"/><circle cx="1731.9" cy="352.8" r="5.05"/><circle cx="1731.9" cy="370.6" r="5.05"/><circle cx="1731.9" cy="384.0" r="5.05"/><circle cx="1739.4" cy="311.2" r="5.05"/><circle cx="1739.4" cy="329.0" r="5.05"/><circle cx="1739.4" cy="346.8" r="5.05"/><circle cx="1739.4" cy="361.7" r="5.05"/><circle cx="1739.4" cy="378.0" r="5.05"/><circle cx="1739.4" cy="387.7" r="5.05"/><circle cx="1739.4" cy="409.2" r="5.05"/><circle cx="1739.4" cy="417.4" r="5.05"/><circle cx="1739.4" cy="441.1" r="5.05"/><circle cx="1746.8" cy="319.4" r="5.05"/><circle cx="1746.8" cy="343.9" r="5.05"/><circle cx="1746.8" cy="349.8" r="5.05"/><circle cx="1746.8" cy="382.5" r="5.05"/><circle cx="1746.8" cy="397.3" r="5.05"/><circle cx="1746.8" cy="401.0" r="5.05"/><circle cx="1754.2" cy="303.8" r="5.05"/><circle cx="1754.2" cy="324.6" r="5.05"/><circle cx="1754.2" cy="346.8" r="5.05"/><circle cx="1754.2" cy="360.9" r="5.05"/><circle cx="1754.2" cy="373.6" r="5.05"/><circle cx="1754.2" cy="387.7" r="5.05"/><circle cx="1754.2" cy="407.7" r="5.05"/><circle cx="1720.0" cy="317.9" r="5.05"/><circle cx="1705.9" cy="382.5" r="5.05"/><circle cx="1713.4" cy="384.0" r="5.05"/><circle cx="1743.1" cy="382.5" r="5.05"/><circle cx="1720.8" cy="375.1" r="5.05"/><circle cx="1728.2" cy="375.1" r="5.05"/></g>
<g fill="#676767"><rect x="1842.1" y="152.0" width="10" height="10"/><rect x="1842.1" y="190.3" width="10" height="10"/><rect x="1842.1" y="214.4" width="10" height="10"/><rect x="1842.1" y="233.7" width="10" height="10"/><rect x="1842.1" y="263.9" width="10" height="10"/><rect x="1842.1" y="276.2" width="10" height="10"/><rect x="1812.3" y="156.5" width="10" height="10"/><rect x="1812.3" y="191.4" width="10" height="10"/><rect x="1812.3" y="214.1" width="10" height="10"/><rect x="1812.3" y="244.3" width="10" height="10"/><rect x="1812.3" y="263.1" width="10" height="10"/><rect x="1827.2" y="160.3" width="10" height="10"/><rect x="1827.2" y="179.5" width="10" height="10"/><rect x="1827.2" y="199.3" width="10" height="10"/><rect x="1827.2" y="221.2" width="10" height="10"/><rect x="1827.2" y="245.3" width="10" height="10"/><rect x="1827.2" y="264.6" width="10" height="10"/><rect x="1797.5" y="208.2" width="10" height="10"/><rect x="1797.5" y="232.7" width="10" height="10"/><rect x="1797.5" y="276.5" width="10" height="10"/><rect x="1856.9" y="211.9" width="10" height="10"/><rect x="1856.9" y="232.2" width="10" height="10"/><rect x="1856.9" y="274.7" width="10" height="10"/><rect x="1804.9" y="269.1" width="10" height="10"/><rect x="1819.8" y="272.0" width="10" height="10"/><rect x="1834.6" y="272.0" width="10" height="10"/><rect x="1849.5" y="282.4" width="10" height="10"/><rect x="1812.3" y="405.0" width="10" height="10"/><rect x="1812.3" y="416.8" width="10" height="10"/><rect x="1797.5" y="413.4" width="10" height="10"/><rect x="1827.2" y="406.9" width="10" height="10"/><rect x="1827.2" y="422.0" width="10" height="10"/><rect x="1834.6" y="408.7" width="10" height="10"/><rect x="1842.1" y="416.8" width="10" height="10"/><rect x="1856.9" y="416.1" width="10" height="10"/><rect x="1830.9" y="410.9" width="10" height="10"/><rect x="1797.5" y="267.1" width="10" height="10"/><rect x="1812.3" y="267.5" width="10" height="10"/><rect x="1827.2" y="268.5" width="10" height="10"/><rect x="1834.6" y="265.1" width="10" height="10"/><rect x="1842.1" y="269.2" width="10" height="10"/><rect x="1856.9" y="267.0" width="10" height="10"/><rect x="1804.9" y="277.9" width="10" height="10"/><rect x="1819.8" y="277.9" width="10" height="10"/><rect x="1834.6" y="276.7" width="10" height="10"/><rect x="1849.5" y="279.3" width="10" height="10"/><rect x="1797.5" y="288.9" width="10" height="10"/><rect x="1812.3" y="286.4" width="10" height="10"/><rect x="1827.2" y="288.3" width="10" height="10"/><rect x="1842.1" y="286.3" width="10" height="10"/><rect x="1856.9" y="287.9" width="10" height="10"/><rect x="1804.9" y="299.4" width="10" height="10"/><rect x="1819.8" y="299.5" width="10" height="10"/><rect x="1827.2" y="299.8" width="10" height="10"/><rect x="1834.6" y="297.8" width="10" height="10"/><rect x="1849.5" y="299.4" width="10" height="10"/><rect x="1856.9" y="295.8" width="10" height="10"/><rect x="1797.5" y="307.0" width="10" height="10"/><rect x="1812.3" y="307.8" width="10" height="10"/><rect x="1827.2" y="307.3" width="10" height="10"/><rect x="1842.1" y="307.6" width="10" height="10"/><rect x="1849.5" y="308.5" width="10" height="10"/><rect x="1856.9" y="308.3" width="10" height="10"/><rect x="1804.9" y="318.7" width="10" height="10"/><rect x="1819.8" y="319.3" width="10" height="10"/><rect x="1834.6" y="318.6" width="10" height="10"/><rect x="1842.1" y="320.2" width="10" height="10"/><rect x="1849.5" y="319.7" width="10" height="10"/><rect x="1797.5" y="328.2" width="10" height="10"/><rect x="1812.3" y="327.0" width="10" height="10"/><rect x="1827.2" y="328.3" width="10" height="10"/><rect x="1834.6" y="325.4" width="10" height="10"/><rect x="1842.1" y="329.3" width="10" height="10"/><rect x="1856.9" y="326.5" width="10" height="10"/><rect x="1804.9" y="337.7" width="10" height="10"/><rect x="1812.3" y="336.8" width="10" height="10"/><rect x="1819.8" y="339.0" width="10" height="10"/><rect x="1834.6" y="336.4" width="10" height="10"/><rect x="1849.5" y="336.4" width="10" height="10"/><rect x="1797.5" y="347.4" width="10" height="10"/><rect x="1812.3" y="349.7" width="10" height="10"/><rect x="1827.2" y="349.8" width="10" height="10"/><rect x="1834.6" y="345.5" width="10" height="10"/><rect x="1842.1" y="348.4" width="10" height="10"/><rect x="1849.5" y="346.2" width="10" height="10"/><rect x="1856.9" y="347.7" width="10" height="10"/><rect x="1804.9" y="356.8" width="10" height="10"/><rect x="1812.3" y="360.2" width="10" height="10"/><rect x="1819.8" y="357.3" width="10" height="10"/><rect x="1834.6" y="359.4" width="10" height="10"/><rect x="1842.1" y="357.8" width="10" height="10"/><rect x="1849.5" y="358.1" width="10" height="10"/><rect x="1797.5" y="368.3" width="10" height="10"/><rect x="1812.3" y="368.4" width="10" height="10"/><rect x="1827.2" y="368.0" width="10" height="10"/><rect x="1842.1" y="368.8" width="10" height="10"/><rect x="1849.5" y="366.8" width="10" height="10"/><rect x="1856.9" y="369.7" width="10" height="10"/><rect x="1804.9" y="378.2" width="10" height="10"/><rect x="1812.3" y="377.5" width="10" height="10"/><rect x="1819.8" y="378.3" width="10" height="10"/><rect x="1827.2" y="378.7" width="10" height="10"/><rect x="1834.6" y="378.5" width="10" height="10"/><rect x="1842.1" y="378.8" width="10" height="10"/><rect x="1849.5" y="377.9" width="10" height="10"/><rect x="1797.5" y="387.5" width="10" height="10"/><rect x="1812.3" y="388.9" width="10" height="10"/><rect x="1819.8" y="385.4" width="10" height="10"/><rect x="1827.2" y="388.6" width="10" height="10"/><rect x="1842.1" y="387.1" width="10" height="10"/><rect x="1856.9" y="388.3" width="10" height="10"/></g>
<g fill="#990000"><rect x="1905.3" y="252.3" width="10" height="10"/><rect x="1920.1" y="266.1" width="10" height="10"/><rect x="1935.0" y="267.3" width="10" height="10"/><rect x="1949.9" y="264.6" width="10" height="10"/><rect x="1905.3" y="281.2" width="10" height="10"/><rect x="1920.1" y="282.4" width="10" height="10"/><rect x="1935.0" y="288.4" width="10" height="10"/><rect x="1949.9" y="285.1" width="10" height="10"/><rect x="1964.7" y="282.4" width="10" height="10"/><rect x="1927.6" y="274.3" width="10" height="10"/><rect x="1942.4" y="275.0" width="10" height="10"/><rect x="1905.3" y="301.0" width="10" height="10"/><rect x="1964.7" y="300.3" width="10" height="10"/><rect x="1927.6" y="298.0" width="10" height="10"/><rect x="1942.4" y="295.8" width="10" height="10"/><rect x="1935.0" y="430.2" width="10" height="10"/><rect x="1949.9" y="429.5" width="10" height="10"/><rect x="1905.3" y="411.6" width="10" height="10"/><rect x="1905.3" y="416.8" width="10" height="10"/><rect x="1964.7" y="404.2" width="10" height="10"/><rect x="1964.7" y="417.6" width="10" height="10"/><rect x="1920.1" y="422.0" width="10" height="10"/><rect x="1935.0" y="414.6" width="10" height="10"/><rect x="1949.9" y="411.6" width="10" height="10"/><rect x="1905.3" y="279.0" width="10" height="10"/><rect x="1920.1" y="279.6" width="10" height="10"/><rect x="1935.0" y="278.4" width="10" height="10"/><rect x="1949.9" y="281.5" width="10" height="10"/><rect x="1964.7" y="281.0" width="10" height="10"/><rect x="1912.7" y="290.7" width="10" height="10"/><rect x="1927.6" y="289.4" width="10" height="10"/><rect x="1942.4" y="289.6" width="10" height="10"/><rect x="1957.3" y="291.8" width="10" height="10"/><rect x="1905.3" y="302.3" width="10" height="10"/><rect x="1920.1" y="300.5" width="10" height="10"/><rect x="1935.0" y="302.0" width="10" height="10"/><rect x="1949.9" y="302.6" width="10" height="10"/><rect x="1964.7" y="301.6" width="10" height="10"/><rect x="1912.7" y="311.8" width="10" height="10"/><rect x="1927.6" y="311.7" width="10" height="10"/><rect x="1942.4" y="313.4" width="10" height="10"/><rect x="1957.3" y="312.0" width="10" height="10"/><rect x="1905.3" y="323.9" width="10" height="10"/><rect x="1920.1" y="323.8" width="10" height="10"/><rect x="1935.0" y="322.4" width="10" height="10"/><rect x="1949.9" y="322.8" width="10" height="10"/><rect x="1964.7" y="321.2" width="10" height="10"/><rect x="1905.3" y="334.9" width="10" height="10"/><rect x="1912.7" y="331.4" width="10" height="10"/><rect x="1920.1" y="333.8" width="10" height="10"/><rect x="1927.6" y="332.2" width="10" height="10"/><rect x="1942.4" y="332.9" width="10" height="10"/><rect x="1949.9" y="336.0" width="10" height="10"/><rect x="1957.3" y="331.9" width="10" height="10"/><rect x="1964.7" y="331.2" width="10" height="10"/><rect x="1905.3" y="344.1" width="10" height="10"/><rect x="1912.7" y="342.7" width="10" height="10"/><rect x="1920.1" y="344.5" width="10" height="10"/><rect x="1927.6" y="344.0" width="10" height="10"/><rect x="1935.0" y="345.1" width="10" height="10"/><rect x="1942.4" y="341.0" width="10" height="10"/><rect x="1949.9" y="342.6" width="10" height="10"/><rect x="1964.7" y="344.0" width="10" height="10"/><rect x="1905.3" y="353.2" width="10" height="10"/><rect x="1912.7" y="353.0" width="10" height="10"/><rect x="1927.6" y="352.6" width="10" height="10"/><rect x="1942.4" y="355.6" width="10" height="10"/><rect x="1957.3" y="355.0" width="10" height="10"/><rect x="1905.3" y="363.1" width="10" height="10"/><rect x="1920.1" y="366.5" width="10" height="10"/><rect x="1935.0" y="364.5" width="10" height="10"/><rect x="1949.9" y="365.2" width="10" height="10"/><rect x="1964.7" y="364.1" width="10" height="10"/><rect x="1912.7" y="375.2" width="10" height="10"/><rect x="1927.6" y="375.0" width="10" height="10"/><rect x="1942.4" y="374.8" width="10" height="10"/><rect x="1957.3" y="373.8" width="10" height="10"/><rect x="1905.3" y="387.0" width="10" height="10"/><rect x="1920.1" y="385.2" width="10" height="10"/><rect x="1935.0" y="387.7" width="10" height="10"/><rect x="1949.9" y="384.9" width="10" height="10"/><rect x="1964.7" y="384.4" width="10" height="10"/><rect x="1912.7" y="397.2" width="10" height="10"/><rect x="1927.6" y="394.9" width="10" height="10"/><rect x="1942.4" y="395.7" width="10" height="10"/><rect x="1957.3" y="395.2" width="10" height="10"/><rect x="1905.3" y="408.2" width="10" height="10"/><rect x="1920.1" y="409.0" width="10" height="10"/><rect x="1935.0" y="406.3" width="10" height="10"/><rect x="1949.9" y="405.5" width="10" height="10"/><rect x="1964.7" y="406.3" width="10" height="10"/></g>
<line x1="1580.60" y1="384.80" x2="1653.10" y2="384.80" stroke="#000" stroke-width="3.2" stroke-linecap="round"/>
<line x1="1688.00" y1="368.00" x2="1760.50" y2="368.00" stroke="#000" stroke-width="3.2" stroke-linecap="round"/>
<line x1="1796.20" y1="328.40" x2="1868.70" y2="328.40" stroke="#000" stroke-width="3.2" stroke-linecap="round"/>
<line x1="1903.80" y1="354.00" x2="1976.30" y2="354.00" stroke="#000" stroke-width="3.2" stroke-linecap="round"/>
<line x1="1615.50" y1="98.00" x2="1825.00" y2="98.00" stroke="#000" stroke-width="3.3" stroke-linecap="round"/>
<line x1="1842.50" y1="98.00" x2="1945.00" y2="98.00" stroke="#000" stroke-width="3.3" stroke-linecap="round"/>
<text transform="translate(1726.40 99.39) scale(1 1.15)" font-family="'Liberation Serif', serif" font-size="43.5" text-anchor="middle" fill="#000" letter-spacing="1.2">***</text>
<text x="1895.20" y="86.10" font-size="23.8" text-anchor="middle" fill="#000">@@</text>
<text x="1565.20" y="533.60" font-size="32.2" text-anchor="end" fill="#000">PE</text>
<text x="1565.20" y="570.40" font-size="32.1" text-anchor="end" fill="#000">Ad-PPP2CA</text>
<text x="1616.60" y="540.04" font-size="41.4" text-anchor="middle" fill="#000" stroke="#000" stroke-width="0.14">-</text>
<text x="1616.60" y="572.24" font-size="41.4" text-anchor="middle" fill="#000" stroke="#000" stroke-width="0.14">-</text>
<text x="1724.00" y="540.04" font-size="41.4" text-anchor="middle" fill="#000" stroke="#000" stroke-width="0.14">-</text>
<text x="1724.00" y="570.80" font-size="36" text-anchor="middle" fill="#000">+</text>
<text x="1832.20" y="538.00" font-size="36" text-anchor="middle" fill="#000">+</text>
<text x="1832.20" y="572.24" font-size="41.4" text-anchor="middle" fill="#000" stroke="#000" stroke-width="0.14">-</text>
<text x="1939.80" y="538.00" font-size="36" text-anchor="middle" fill="#000">+</text>
<text x="1939.80" y="570.80" font-size="36" text-anchor="middle" fill="#000">+</text>
<text transform="translate(1514.60 250.60) rotate(-90)" font-size="41.2" text-anchor="middle" fill="#000">NRVCs size (F/C)</text>
<path d="M170.8,677.9 H613 V1108.5 H170.8 M181.3,677.9 V1108.5" fill="none" stroke="#000" stroke-width="3.15" stroke-linecap="round"/>
<line x1="170.80" y1="764.02" x2="181.30" y2="764.02" stroke="#000" stroke-width="3.15" stroke-linecap="round"/>
<line x1="170.80" y1="850.14" x2="181.30" y2="850.14" stroke="#000" stroke-width="3.15" stroke-linecap="round"/>
<line x1="170.80" y1="936.26" x2="181.30" y2="936.26" stroke="#000" stroke-width="3.15" stroke-linecap="round"/>
<line x1="170.80" y1="1022.38" x2="181.30" y2="1022.38" stroke="#000" stroke-width="3.15" stroke-linecap="round"/>
<text x="168.00" y="688.90" font-size="31" text-anchor="end" fill="#000">5</text>
<text x="168.00" y="775.02" font-size="31" text-anchor="end" fill="#000">4</text>
<text x="168.00" y="861.14" font-size="31" text-anchor="end" fill="#000">3</text>
<text x="168.00" y="947.26" font-size="31" text-anchor="end" fill="#000">2</text>
<text x="168.00" y="1033.38" font-size="31" text-anchor="end" fill="#000">1</text>
<text x="168.00" y="1119.50" font-size="31" text-anchor="end" fill="#000">0</text>
<line x1="234.30" y1="1094.50" x2="234.30" y2="1123.00" stroke="#000" stroke-width="3.05" stroke-linecap="round"/>
<line x1="342.20" y1="1094.50" x2="342.20" y2="1123.00" stroke="#000" stroke-width="3.05" stroke-linecap="round"/>
<line x1="449.80" y1="1094.50" x2="449.80" y2="1123.00" stroke="#000" stroke-width="3.05" stroke-linecap="round"/>
<line x1="557.70" y1="1094.50" x2="557.70" y2="1123.00" stroke="#000" stroke-width="3.05" stroke-linecap="round"/>
<g fill="#a2a2a6"><circle cx="219.6" cy="911.7" r="5.05"/><circle cx="234.5" cy="912.3" r="5.05"/><circle cx="249.4" cy="911.2" r="5.05"/><circle cx="249.4" cy="921.3" r="5.05"/><circle cx="234.5" cy="927.9" r="5.05"/><circle cx="219.6" cy="947.2" r="5.05"/><circle cx="234.5" cy="947.2" r="5.05"/><circle cx="234.5" cy="964.0" r="5.05"/><circle cx="204.8" cy="971.7" r="5.05"/><circle cx="249.4" cy="973.6" r="5.05"/><circle cx="204.8" cy="1070.4" r="5.05"/><circle cx="219.6" cy="1074.9" r="5.05"/><circle cx="234.5" cy="1076.3" r="5.05"/><circle cx="249.4" cy="1074.0" r="5.05"/><circle cx="204.8" cy="1087.5" r="5.05"/><circle cx="264.2" cy="1090.8" r="5.05"/><circle cx="219.6" cy="1099.7" r="5.05"/><circle cx="234.5" cy="1101.6" r="5.05"/><circle cx="249.4" cy="1101.1" r="5.05"/><circle cx="212.2" cy="1062.5" r="5.05"/><circle cx="219.6" cy="1059.6" r="5.05"/><circle cx="227.1" cy="1063.3" r="5.05"/><circle cx="234.5" cy="1060.3" r="5.05"/><circle cx="241.9" cy="1064.0" r="5.05"/><circle cx="249.4" cy="1059.6" r="5.05"/><circle cx="256.8" cy="1061.0" r="5.05"/><circle cx="264.2" cy="1064.0" r="5.05"/><circle cx="264.2" cy="1053.6" r="5.05"/><circle cx="264.2" cy="1041.7" r="5.05"/><circle cx="204.8" cy="1042.5" r="5.05"/><circle cx="204.8" cy="1050.6" r="5.05"/><circle cx="212.2" cy="980.5" r="5.05"/><circle cx="219.6" cy="979.7" r="5.05"/><circle cx="234.5" cy="979.6" r="5.05"/><circle cx="249.4" cy="977.9" r="5.05"/><circle cx="256.8" cy="981.7" r="5.05"/><circle cx="212.2" cy="987.4" r="5.05"/><circle cx="227.1" cy="986.1" r="5.05"/><circle cx="234.5" cy="985.5" r="5.05"/><circle cx="241.9" cy="987.1" r="5.05"/><circle cx="249.4" cy="984.1" r="5.05"/><circle cx="256.8" cy="986.3" r="5.05"/><circle cx="204.8" cy="994.5" r="5.05"/><circle cx="219.6" cy="995.6" r="5.05"/><circle cx="227.1" cy="996.8" r="5.05"/><circle cx="234.5" cy="994.1" r="5.05"/><circle cx="241.9" cy="992.8" r="5.05"/><circle cx="249.4" cy="993.8" r="5.05"/><circle cx="264.2" cy="994.3" r="5.05"/><circle cx="204.8" cy="1005.9" r="5.05"/><circle cx="212.2" cy="1003.9" r="5.05"/><circle cx="219.6" cy="1005.8" r="5.05"/><circle cx="227.1" cy="1003.1" r="5.05"/><circle cx="234.5" cy="1001.2" r="5.05"/><circle cx="241.9" cy="1004.1" r="5.05"/><circle cx="249.4" cy="1005.8" r="5.05"/><circle cx="256.8" cy="1003.9" r="5.05"/><circle cx="264.2" cy="1002.2" r="5.05"/><circle cx="204.8" cy="1010.2" r="5.05"/><circle cx="212.2" cy="1008.4" r="5.05"/><circle cx="219.6" cy="1010.5" r="5.05"/><circle cx="227.1" cy="1008.0" r="5.05"/><circle cx="234.5" cy="1011.4" r="5.05"/><circle cx="241.9" cy="1009.9" r="5.05"/><circle cx="249.4" cy="1011.8" r="5.05"/><circle cx="256.8" cy="1009.9" r="5.05"/><circle cx="264.2" cy="1011.0" r="5.05"/><circle cx="204.8" cy="1024.6" r="5.05"/><circle cx="212.2" cy="1025.9" r="5.05"/><circle cx="219.6" cy="1024.0" r="5.05"/><circle cx="227.1" cy="1024.2" r="5.05"/><circle cx="234.5" cy="1023.9" r="5.05"/><circle cx="241.9" cy="1022.2" r="5.05"/><circle cx="249.4" cy="1024.8" r="5.05"/><circle cx="256.8" cy="1022.5" r="5.05"/><circle cx="264.2" cy="1024.8" r="5.05"/><circle cx="212.2" cy="1032.1" r="5.05"/><circle cx="219.6" cy="1033.8" r="5.05"/><circle cx="227.1" cy="1034.1" r="5.05"/><circle cx="234.5" cy="1032.4" r="5.05"/><circle cx="241.9" cy="1034.1" r="5.05"/><circle cx="249.4" cy="1035.2" r="5.05"/><circle cx="256.8" cy="1032.5" r="5.05"/><circle cx="264.2" cy="1030.7" r="5.05"/><circle cx="204.8" cy="1040.5" r="5.05"/><circle cx="219.6" cy="1040.2" r="5.05"/><circle cx="227.1" cy="1041.8" r="5.05"/><circle cx="234.5" cy="1040.7" r="5.05"/><circle cx="241.9" cy="1038.4" r="5.05"/><circle cx="249.4" cy="1039.9" r="5.05"/><circle cx="256.8" cy="1042.1" r="5.05"/><circle cx="264.2" cy="1040.8" r="5.05"/><circle cx="204.8" cy="1049.5" r="5.05"/><circle cx="212.2" cy="1048.9" r="5.05"/><circle cx="219.6" cy="1050.8" r="5.05"/><circle cx="227.1" cy="1049.5" r="5.05"/><circle cx="234.5" cy="1049.4" r="5.05"/><circle cx="241.9" cy="1049.1" r="5.05"/><circle cx="256.8" cy="1049.6" r="5.05"/><circle cx="264.2" cy="1051.9" r="5.05"/></g>
<g fill="#ff0000"><circle cx="357.0" cy="871.6" r="5.05"/><circle cx="342.1" cy="882.6" r="5.05"/><circle cx="312.4" cy="910.5" r="5.05"/><circle cx="357.0" cy="913.0" r="5.05"/><circle cx="327.2" cy="918.4" r="5.05"/><circle cx="342.1" cy="920.2" r="5.05"/><circle cx="327.2" cy="929.4" r="5.05"/><circle cx="357.0" cy="937.2" r="5.05"/><circle cx="342.1" cy="942.4" r="5.05"/><circle cx="334.7" cy="959.8" r="5.05"/><circle cx="312.4" cy="964.0" r="5.05"/><circle cx="371.8" cy="963.2" r="5.05"/><circle cx="327.2" cy="968.7" r="5.05"/><circle cx="357.0" cy="968.4" r="5.05"/><circle cx="342.1" cy="971.4" r="5.05"/><circle cx="319.8" cy="979.2" r="5.05"/><circle cx="327.2" cy="979.1" r="5.05"/><circle cx="342.1" cy="978.8" r="5.05"/><circle cx="349.5" cy="982.4" r="5.05"/><circle cx="357.0" cy="979.0" r="5.05"/><circle cx="319.8" cy="989.5" r="5.05"/><circle cx="327.2" cy="988.5" r="5.05"/><circle cx="334.7" cy="989.7" r="5.05"/><circle cx="342.1" cy="990.6" r="5.05"/><circle cx="349.5" cy="988.4" r="5.05"/><circle cx="357.0" cy="986.9" r="5.05"/><circle cx="364.4" cy="989.2" r="5.05"/><circle cx="312.4" cy="999.4" r="5.05"/><circle cx="327.2" cy="999.1" r="5.05"/><circle cx="334.7" cy="999.9" r="5.05"/><circle cx="342.1" cy="997.4" r="5.05"/><circle cx="349.5" cy="999.4" r="5.05"/><circle cx="357.0" cy="998.9" r="5.05"/><circle cx="364.4" cy="995.9" r="5.05"/><circle cx="371.8" cy="997.8" r="5.05"/><circle cx="312.4" cy="1006.3" r="5.05"/><circle cx="319.8" cy="1008.3" r="5.05"/><circle cx="327.2" cy="1009.9" r="5.05"/><circle cx="334.7" cy="1008.5" r="5.05"/><circle cx="342.1" cy="1006.9" r="5.05"/><circle cx="349.5" cy="1007.6" r="5.05"/><circle cx="357.0" cy="1007.1" r="5.05"/><circle cx="364.4" cy="1008.6" r="5.05"/><circle cx="371.8" cy="1008.2" r="5.05"/><circle cx="312.4" cy="1015.9" r="5.05"/><circle cx="327.2" cy="1017.7" r="5.05"/><circle cx="334.7" cy="1013.8" r="5.05"/><circle cx="342.1" cy="1015.8" r="5.05"/><circle cx="349.5" cy="1013.9" r="5.05"/><circle cx="357.0" cy="1015.8" r="5.05"/><circle cx="364.4" cy="1019.3" r="5.05"/><circle cx="371.8" cy="1016.6" r="5.05"/><circle cx="312.4" cy="1026.8" r="5.05"/><circle cx="319.8" cy="1025.0" r="5.05"/><circle cx="334.7" cy="1025.2" r="5.05"/><circle cx="349.5" cy="1027.1" r="5.05"/><circle cx="357.0" cy="1026.3" r="5.05"/><circle cx="364.4" cy="1026.3" r="5.05"/><circle cx="371.8" cy="1024.6" r="5.05"/><circle cx="312.4" cy="1036.4" r="5.05"/><circle cx="327.2" cy="1034.3" r="5.05"/><circle cx="342.1" cy="1036.3" r="5.05"/><circle cx="349.5" cy="1035.9" r="5.05"/><circle cx="357.0" cy="1034.1" r="5.05"/><circle cx="364.4" cy="1036.2" r="5.05"/><circle cx="371.8" cy="1035.4" r="5.05"/><circle cx="319.8" cy="1043.4" r="5.05"/><circle cx="327.2" cy="1046.6" r="5.05"/><circle cx="334.7" cy="1044.6" r="5.05"/><circle cx="342.1" cy="1043.8" r="5.05"/><circle cx="349.5" cy="1045.6" r="5.05"/><circle cx="364.4" cy="1043.2" r="5.05"/><circle cx="312.4" cy="1053.2" r="5.05"/><circle cx="327.2" cy="1052.9" r="5.05"/><circle cx="342.1" cy="1053.2" r="5.05"/><circle cx="349.5" cy="1054.4" r="5.05"/><circle cx="357.0" cy="1052.6" r="5.05"/><circle cx="371.8" cy="1052.5" r="5.05"/><circle cx="319.8" cy="1063.5" r="5.05"/><circle cx="334.7" cy="1063.3" r="5.05"/><circle cx="342.1" cy="1064.2" r="5.05"/><circle cx="349.5" cy="1062.6" r="5.05"/><circle cx="357.0" cy="1065.6" r="5.05"/><circle cx="364.4" cy="1062.6" r="5.05"/><circle cx="312.4" cy="1072.9" r="5.05"/><circle cx="327.2" cy="1072.4" r="5.05"/><circle cx="334.7" cy="1074.1" r="5.05"/><circle cx="342.1" cy="1071.4" r="5.05"/><circle cx="349.5" cy="1074.9" r="5.05"/><circle cx="357.0" cy="1071.2" r="5.05"/><circle cx="371.8" cy="1073.2" r="5.05"/><circle cx="319.8" cy="1080.0" r="5.05"/><circle cx="327.2" cy="1079.5" r="5.05"/><circle cx="334.7" cy="1080.9" r="5.05"/><circle cx="349.5" cy="1082.3" r="5.05"/><circle cx="364.4" cy="1080.3" r="5.05"/><circle cx="312.4" cy="1089.5" r="5.05"/><circle cx="319.8" cy="1090.7" r="5.05"/><circle cx="327.2" cy="1090.9" r="5.05"/><circle cx="334.7" cy="1090.1" r="5.05"/><circle cx="342.1" cy="1090.9" r="5.05"/><circle cx="357.0" cy="1090.1" r="5.05"/><circle cx="371.8" cy="1089.6" r="5.05"/></g>
<g fill="#676767"><rect x="445.0" y="771.0" width="10" height="10"/><rect x="430.1" y="784.0" width="10" height="10"/><rect x="445.0" y="785.9" width="10" height="10"/><rect x="459.9" y="784.4" width="10" height="10"/><rect x="445.0" y="813.4" width="10" height="10"/><rect x="474.7" y="836.7" width="10" height="10"/><rect x="430.1" y="841.9" width="10" height="10"/><rect x="459.9" y="843.7" width="10" height="10"/><rect x="445.0" y="846.8" width="10" height="10"/><rect x="415.3" y="860.5" width="10" height="10"/><rect x="474.7" y="859.0" width="10" height="10"/><rect x="430.1" y="862.7" width="10" height="10"/><rect x="437.6" y="858.2" width="10" height="10"/><rect x="445.0" y="864.9" width="10" height="10"/><rect x="437.6" y="867.9" width="10" height="10"/><rect x="459.9" y="861.9" width="10" height="10"/><rect x="415.3" y="876.8" width="10" height="10"/><rect x="430.1" y="877.8" width="10" height="10"/><rect x="474.7" y="877.1" width="10" height="10"/><rect x="452.4" y="876.8" width="10" height="10"/><rect x="445.0" y="882.7" width="10" height="10"/><rect x="459.9" y="882.7" width="10" height="10"/><rect x="430.1" y="890.5" width="10" height="10"/><rect x="430.1" y="984.4" width="10" height="10"/><rect x="459.9" y="983.7" width="10" height="10"/><rect x="445.0" y="994.8" width="10" height="10"/><rect x="430.1" y="1003.3" width="10" height="10"/><rect x="459.9" y="1007.4" width="10" height="10"/><rect x="459.9" y="1017.1" width="10" height="10"/><rect x="415.3" y="1015.9" width="10" height="10"/><rect x="445.0" y="1013.8" width="10" height="10"/><rect x="474.7" y="1015.3" width="10" height="10"/><rect x="430.1" y="1019.3" width="10" height="10"/><rect x="445.0" y="1029.4" width="10" height="10"/><rect x="459.9" y="1035.6" width="10" height="10"/><rect x="445.0" y="1048.0" width="10" height="10"/><rect x="445.0" y="981.4" width="10" height="10"/><rect x="415.3" y="974.0" width="10" height="10"/><rect x="474.7" y="974.0" width="10" height="10"/><rect x="430.1" y="899.8" width="10" height="10"/><rect x="445.0" y="899.3" width="10" height="10"/><rect x="459.9" y="900.8" width="10" height="10"/><rect x="415.3" y="909.9" width="10" height="10"/><rect x="422.7" y="909.4" width="10" height="10"/><rect x="437.6" y="910.9" width="10" height="10"/><rect x="452.4" y="908.7" width="10" height="10"/><rect x="467.3" y="910.0" width="10" height="10"/><rect x="415.3" y="919.1" width="10" height="10"/><rect x="430.1" y="919.5" width="10" height="10"/><rect x="445.0" y="920.0" width="10" height="10"/><rect x="452.4" y="921.2" width="10" height="10"/><rect x="459.9" y="920.8" width="10" height="10"/><rect x="474.7" y="919.9" width="10" height="10"/><rect x="415.3" y="926.4" width="10" height="10"/><rect x="422.7" y="928.5" width="10" height="10"/><rect x="437.6" y="928.9" width="10" height="10"/><rect x="445.0" y="931.8" width="10" height="10"/><rect x="452.4" y="929.0" width="10" height="10"/><rect x="467.3" y="929.2" width="10" height="10"/><rect x="474.7" y="929.9" width="10" height="10"/><rect x="415.3" y="940.0" width="10" height="10"/><rect x="422.7" y="937.5" width="10" height="10"/><rect x="430.1" y="939.0" width="10" height="10"/><rect x="437.6" y="939.2" width="10" height="10"/><rect x="445.0" y="940.0" width="10" height="10"/><rect x="459.9" y="939.3" width="10" height="10"/><rect x="474.7" y="938.4" width="10" height="10"/><rect x="422.7" y="948.7" width="10" height="10"/><rect x="437.6" y="948.1" width="10" height="10"/><rect x="452.4" y="948.0" width="10" height="10"/><rect x="459.9" y="950.8" width="10" height="10"/><rect x="467.3" y="950.1" width="10" height="10"/><rect x="474.7" y="948.5" width="10" height="10"/><rect x="415.3" y="958.2" width="10" height="10"/><rect x="422.7" y="959.5" width="10" height="10"/><rect x="430.1" y="958.0" width="10" height="10"/><rect x="437.6" y="958.5" width="10" height="10"/><rect x="445.0" y="958.0" width="10" height="10"/><rect x="459.9" y="959.6" width="10" height="10"/><rect x="474.7" y="958.8" width="10" height="10"/><rect x="422.7" y="968.4" width="10" height="10"/><rect x="430.1" y="969.9" width="10" height="10"/><rect x="437.6" y="968.2" width="10" height="10"/><rect x="452.4" y="967.6" width="10" height="10"/><rect x="467.3" y="968.8" width="10" height="10"/><rect x="415.3" y="979.3" width="10" height="10"/><rect x="430.1" y="977.8" width="10" height="10"/><rect x="445.0" y="979.4" width="10" height="10"/><rect x="459.9" y="978.6" width="10" height="10"/><rect x="467.3" y="978.3" width="10" height="10"/><rect x="474.7" y="978.3" width="10" height="10"/></g>
<g fill="#990000"><rect x="567.8" y="903.5" width="10" height="10"/><rect x="552.9" y="909.2" width="10" height="10"/><rect x="538.0" y="929.5" width="10" height="10"/><rect x="538.0" y="930.2" width="10" height="10"/><rect x="552.9" y="936.6" width="10" height="10"/><rect x="538.0" y="949.1" width="10" height="10"/><rect x="567.8" y="954.7" width="10" height="10"/><rect x="523.2" y="966.6" width="10" height="10"/><rect x="582.6" y="965.4" width="10" height="10"/><rect x="545.5" y="962.1" width="10" height="10"/><rect x="552.9" y="959.9" width="10" height="10"/><rect x="560.3" y="962.1" width="10" height="10"/><rect x="523.2" y="1088.4" width="10" height="10"/><rect x="582.6" y="1089.1" width="10" height="10"/><rect x="538.0" y="1089.9" width="10" height="10"/><rect x="567.8" y="1094.3" width="10" height="10"/><rect x="552.9" y="1096.5" width="10" height="10"/><rect x="552.9" y="1088.4" width="10" height="10"/><rect x="538.0" y="975.4" width="10" height="10"/><rect x="552.9" y="974.1" width="10" height="10"/><rect x="560.3" y="974.2" width="10" height="10"/><rect x="567.8" y="974.5" width="10" height="10"/><rect x="530.6" y="985.2" width="10" height="10"/><rect x="545.5" y="985.4" width="10" height="10"/><rect x="552.9" y="984.6" width="10" height="10"/><rect x="560.3" y="984.2" width="10" height="10"/><rect x="575.2" y="983.9" width="10" height="10"/><rect x="523.2" y="994.0" width="10" height="10"/><rect x="538.0" y="994.6" width="10" height="10"/><rect x="552.9" y="995.8" width="10" height="10"/><rect x="560.3" y="992.4" width="10" height="10"/><rect x="567.8" y="996.0" width="10" height="10"/><rect x="582.6" y="994.0" width="10" height="10"/><rect x="530.6" y="1006.1" width="10" height="10"/><rect x="538.0" y="1004.5" width="10" height="10"/><rect x="545.5" y="1004.1" width="10" height="10"/><rect x="552.9" y="1005.7" width="10" height="10"/><rect x="560.3" y="1004.2" width="10" height="10"/><rect x="575.2" y="1003.9" width="10" height="10"/><rect x="582.6" y="1006.9" width="10" height="10"/><rect x="523.2" y="1014.8" width="10" height="10"/><rect x="530.6" y="1015.6" width="10" height="10"/><rect x="538.0" y="1014.9" width="10" height="10"/><rect x="545.5" y="1012.2" width="10" height="10"/><rect x="552.9" y="1015.5" width="10" height="10"/><rect x="567.8" y="1016.1" width="10" height="10"/><rect x="582.6" y="1014.7" width="10" height="10"/><rect x="523.2" y="1026.1" width="10" height="10"/><rect x="530.6" y="1025.4" width="10" height="10"/><rect x="538.0" y="1023.4" width="10" height="10"/><rect x="545.5" y="1024.7" width="10" height="10"/><rect x="552.9" y="1026.9" width="10" height="10"/><rect x="560.3" y="1025.0" width="10" height="10"/><rect x="567.8" y="1026.9" width="10" height="10"/><rect x="575.2" y="1024.8" width="10" height="10"/><rect x="582.6" y="1023.3" width="10" height="10"/><rect x="523.2" y="1034.8" width="10" height="10"/><rect x="530.6" y="1036.6" width="10" height="10"/><rect x="538.0" y="1034.0" width="10" height="10"/><rect x="545.5" y="1033.1" width="10" height="10"/><rect x="552.9" y="1035.5" width="10" height="10"/><rect x="560.3" y="1033.7" width="10" height="10"/><rect x="567.8" y="1034.6" width="10" height="10"/><rect x="582.6" y="1033.9" width="10" height="10"/><rect x="523.2" y="1043.3" width="10" height="10"/><rect x="530.6" y="1044.5" width="10" height="10"/><rect x="538.0" y="1047.8" width="10" height="10"/><rect x="545.5" y="1045.0" width="10" height="10"/><rect x="560.3" y="1044.2" width="10" height="10"/><rect x="575.2" y="1044.7" width="10" height="10"/><rect x="582.6" y="1046.5" width="10" height="10"/><rect x="523.2" y="1056.0" width="10" height="10"/><rect x="530.6" y="1053.6" width="10" height="10"/><rect x="538.0" y="1055.6" width="10" height="10"/><rect x="552.9" y="1054.4" width="10" height="10"/><rect x="560.3" y="1052.2" width="10" height="10"/><rect x="567.8" y="1055.3" width="10" height="10"/><rect x="582.6" y="1056.2" width="10" height="10"/><rect x="530.6" y="1063.9" width="10" height="10"/><rect x="545.5" y="1065.7" width="10" height="10"/><rect x="560.3" y="1065.3" width="10" height="10"/><rect x="567.8" y="1065.2" width="10" height="10"/><rect x="575.2" y="1064.9" width="10" height="10"/><rect x="523.2" y="1074.4" width="10" height="10"/><rect x="538.0" y="1075.9" width="10" height="10"/><rect x="545.5" y="1073.7" width="10" height="10"/><rect x="552.9" y="1075.9" width="10" height="10"/><rect x="567.8" y="1076.1" width="10" height="10"/><rect x="582.6" y="1075.5" width="10" height="10"/><rect x="530.6" y="1084.3" width="10" height="10"/><rect x="545.5" y="1084.4" width="10" height="10"/><rect x="560.3" y="1085.5" width="10" height="10"/><rect x="567.8" y="1087.3" width="10" height="10"/><rect x="575.2" y="1084.8" width="10" height="10"/><rect x="582.6" y="1084.6" width="10" height="10"/></g>
<line x1="198.30" y1="1019.00" x2="270.80" y2="1019.00" stroke="#000" stroke-width="3.2" stroke-linecap="round"/>
<line x1="306.20" y1="1019.50" x2="378.70" y2="1019.50" stroke="#000" stroke-width="3.2" stroke-linecap="round"/>
<line x1="413.80" y1="932.70" x2="486.30" y2="932.70" stroke="#000" stroke-width="3.2" stroke-linecap="round"/>
<line x1="521.70" y1="1029.50" x2="594.20" y2="1029.50" stroke="#000" stroke-width="3.2" stroke-linecap="round"/>
<line x1="233.80" y1="735.70" x2="443.50" y2="735.70" stroke="#000" stroke-width="3.3" stroke-linecap="round"/>
<line x1="460.50" y1="735.70" x2="563.00" y2="735.70" stroke="#000" stroke-width="3.3" stroke-linecap="round"/>
<text transform="translate(337.60 737.09) scale(1 1.15)" font-family="'Liberation Serif', serif" font-size="43.5" text-anchor="middle" fill="#000" letter-spacing="1.2">***</text>
<text x="511.00" y="723.80" font-size="23.8" text-anchor="middle" fill="#000">@@@</text>
<text x="183.00" y="1171.10" font-size="32.2" text-anchor="end" fill="#000">PE</text>
<text x="182.50" y="1207.90" font-size="32.1" text-anchor="end" fill="#000">Ad-PPP2CA</text>
<text x="234.30" y="1177.14" font-size="41.4" text-anchor="middle" fill="#000" stroke="#000" stroke-width="0.14">-</text>
<text x="234.30" y="1209.24" font-size="41.4" text-anchor="middle" fill="#000" stroke="#000" stroke-width="0.14">-</text>
<text x="342.20" y="1177.14" font-size="41.4" text-anchor="middle" fill="#000" stroke="#000" stroke-width="0.14">-</text>
<text x="342.20" y="1207.80" font-size="36" text-anchor="middle" fill="#000">+</text>
<text x="449.80" y="1175.70" font-size="36" text-anchor="middle" fill="#000">+</text>
<text x="449.80" y="1209.24" font-size="41.4" text-anchor="middle" fill="#000" stroke="#000" stroke-width="0.14">-</text>
<text x="557.70" y="1175.70" font-size="36" text-anchor="middle" fill="#000">+</text>
<text x="557.70" y="1207.80" font-size="36" text-anchor="middle" fill="#000">+</text>
<text transform="translate(85.00 888.00) rotate(-90)" font-size="41.5" text-anchor="middle" fill="#000">L-homopropargylglycine</text>
<text transform="translate(131.60 887.00) rotate(-90)" font-size="41.5" text-anchor="middle" fill="#000">incorporation (F/C)</text>
<line x1="941.50" y1="956.30" x2="941.50" y2="964.20" stroke="#1a1a1a" stroke-width="1.3" stroke-linecap="butt"/>
<rect x="912.35" y="964.20" width="58.30" height="143.70" fill="#c0c0c0" stroke="#1a1a1a" stroke-width="1.3"/>
<line x1="1039.50" y1="1009.30" x2="1039.50" y2="1022.50" stroke="#1a1a1a" stroke-width="1.3" stroke-linecap="butt"/>
<rect x="1010.35" y="1022.50" width="58.30" height="85.40" fill="#ff4040" stroke="#1a1a1a" stroke-width="1.3"/>
<line x1="1137.30" y1="837.30" x2="1137.30" y2="864.40" stroke="#1a1a1a" stroke-width="1.3" stroke-linecap="butt"/>
<rect x="1108.15" y="864.40" width="58.30" height="243.50" fill="#404040" stroke="#1a1a1a" stroke-width="1.3"/>
<line x1="1235.00" y1="1023.20" x2="1235.00" y2="1046.60" stroke="#1a1a1a" stroke-width="1.3" stroke-linecap="butt"/>
<rect x="1205.85" y="1046.60" width="58.30" height="61.30" fill="#800000" stroke="#1a1a1a" stroke-width="1.3"/>
<path d="M866.5,677.5 H1303.3 V1107.9 H866.5 M874,677.5 V1107.9" fill="none" stroke="#000" stroke-width="2.1"/>
<line x1="866.50" y1="749.23" x2="874.00" y2="749.23" stroke="#000" stroke-width="2.1" stroke-linecap="butt"/>
<line x1="866.50" y1="820.97" x2="874.00" y2="820.97" stroke="#000" stroke-width="2.1" stroke-linecap="butt"/>
<line x1="866.50" y1="892.70" x2="874.00" y2="892.70" stroke="#000" stroke-width="2.1" stroke-linecap="butt"/>
<line x1="866.50" y1="964.43" x2="874.00" y2="964.43" stroke="#000" stroke-width="2.1" stroke-linecap="butt"/>
<line x1="866.50" y1="1036.17" x2="874.00" y2="1036.17" stroke="#000" stroke-width="2.1" stroke-linecap="butt"/>
<text x="856.20" y="684.10" font-size="19.6" text-anchor="end" fill="#000">3.0</text>
<text x="856.20" y="755.83" font-size="19.6" text-anchor="end" fill="#000">2.5</text>
<text x="856.20" y="827.57" font-size="19.6" text-anchor="end" fill="#000">2.0</text>
<text x="856.20" y="899.30" font-size="19.6" text-anchor="end" fill="#000">1.5</text>
<text x="856.20" y="971.03" font-size="19.6" text-anchor="end" fill="#000">1.0</text>
<text x="856.20" y="1042.77" font-size="19.6" text-anchor="end" fill="#000">0.5</text>
<text x="856.20" y="1114.50" font-size="19.6" text-anchor="end" fill="#000">0.0</text>
<line x1="941.50" y1="1107.90" x2="941.50" y2="1119.40" stroke="#000" stroke-width="2.1" stroke-linecap="butt"/>
<line x1="1039.50" y1="1107.90" x2="1039.50" y2="1119.40" stroke="#000" stroke-width="2.1" stroke-linecap="butt"/>
<line x1="1137.30" y1="1107.90" x2="1137.30" y2="1119.40" stroke="#000" stroke-width="2.1" stroke-linecap="butt"/>
<line x1="1235.00" y1="1107.90" x2="1235.00" y2="1119.40" stroke="#000" stroke-width="2.1" stroke-linecap="butt"/>
<text x="942.40" y="1095.00" font-size="37" text-anchor="middle" fill="#fff">3</text>
<text x="1037.40" y="1092.70" font-size="37" text-anchor="middle" fill="#fff">3</text>
<text x="1136.40" y="1091.70" font-size="37" text-anchor="middle" fill="#fff">3</text>
<text x="1235.00" y="1094.00" font-size="37" text-anchor="middle" fill="#fff">3</text>
<text x="874.20" y="1154.80" font-size="27" text-anchor="end" fill="#000">PE</text>
<text x="874.30" y="1187.10" font-size="26.9" text-anchor="end" fill="#000">Ad-PPP2CA</text>
<text x="939.90" y="1156.66" font-size="30.0" text-anchor="middle" fill="#000">-</text>
<text x="939.90" y="1188.16" font-size="30.0" text-anchor="middle" fill="#000">-</text>
<text x="1041.70" y="1156.66" font-size="30.0" text-anchor="middle" fill="#000">-</text>
<text x="1040.30" y="1187.50" font-size="27.5" text-anchor="middle" fill="#000">+</text>
<text x="1136.10" y="1156.00" font-size="27.5" text-anchor="middle" fill="#000">+</text>
<text x="1136.10" y="1184.16" font-size="30.0" text-anchor="middle" fill="#000">-</text>
<text x="1234.00" y="1156.00" font-size="27.5" text-anchor="middle" fill="#000">+</text>
<text x="1234.00" y="1187.50" font-size="27.5" text-anchor="middle" fill="#000">+</text>
<line x1="942.30" y1="749.10" x2="1127.10" y2="749.10" stroke="#000" stroke-width="2.3" stroke-linecap="round"/>
<line x1="1147.50" y1="749.10" x2="1234.80" y2="749.10" stroke="#000" stroke-width="2.3" stroke-linecap="round"/>
<line x1="942.30" y1="821.10" x2="1039.30" y2="821.10" stroke="#000" stroke-width="2.3" stroke-linecap="round"/>
<text transform="translate(1034.90 748.52) scale(1 1.1)" font-family="'Liberation Serif', serif" font-size="35.7" text-anchor="middle" fill="#000">**</text>
<text x="1192.65" y="738.20" font-size="21" text-anchor="middle" fill="#000">@@@</text>
<text transform="translate(990.80 820.42) scale(1 1.1)" font-family="'Liberation Serif', serif" font-size="35.7" text-anchor="middle" fill="#000">***</text>
<text transform="translate(779.00 895.50) rotate(-90)" font-size="30.2" text-anchor="middle" fill="#000"><tspan font-style="italic">Nppa/18s RNA</tspan> transcript amount</text>
<text transform="translate(813.50 894.50) rotate(-90)" font-size="30.6" text-anchor="middle" fill="#000">(fold change)</text>
<line x1="1632.30" y1="959.00" x2="1632.30" y2="964.20" stroke="#1a1a1a" stroke-width="1.3" stroke-linecap="butt"/>
<rect x="1603.15" y="964.20" width="58.30" height="143.70" fill="#c0c0c0" stroke="#1a1a1a" stroke-width="1.3"/>
<line x1="1730.30" y1="915.00" x2="1730.30" y2="939.70" stroke="#1a1a1a" stroke-width="1.3" stroke-linecap="butt"/>
<rect x="1701.15" y="939.70" width="58.30" height="168.20" fill="#ff4040" stroke="#1a1a1a" stroke-width="1.3"/>
<line x1="1828.10" y1="767.00" x2="1828.10" y2="776.30" stroke="#1a1a1a" stroke-width="1.3" stroke-linecap="butt"/>
<rect x="1798.95" y="776.30" width="58.30" height="331.60" fill="#404040" stroke="#1a1a1a" stroke-width="1.3"/>
<line x1="1925.80" y1="919.00" x2="1925.80" y2="972.00" stroke="#1a1a1a" stroke-width="1.3" stroke-linecap="butt"/>
<rect x="1896.65" y="972.00" width="58.30" height="135.90" fill="#800000" stroke="#1a1a1a" stroke-width="1.3"/>
<path d="M1557.3,677.5 H1994.1 V1107.9 H1557.3 M1564.8,677.5 V1107.9" fill="none" stroke="#000" stroke-width="2.1"/>
<line x1="1557.30" y1="749.23" x2="1564.80" y2="749.23" stroke="#000" stroke-width="2.1" stroke-linecap="butt"/>
<line x1="1557.30" y1="820.97" x2="1564.80" y2="820.97" stroke="#000" stroke-width="2.1" stroke-linecap="butt"/>
<line x1="1557.30" y1="892.70" x2="1564.80" y2="892.70" stroke="#000" stroke-width="2.1" stroke-linecap="butt"/>
<line x1="1557.30" y1="964.43" x2="1564.80" y2="964.43" stroke="#000" stroke-width="2.1" stroke-linecap="butt"/>
<line x1="1557.30" y1="1036.17" x2="1564.80" y2="1036.17" stroke="#000" stroke-width="2.1" stroke-linecap="butt"/>
<text x="1547.00" y="684.10" font-size="19.6" text-anchor="end" fill="#000">3.0</text>
<text x="1547.00" y="755.83" font-size="19.6" text-anchor="end" fill="#000">2.5</text>
<text x="1547.00" y="827.57" font-size="19.6" text-anchor="end" fill="#000">2.0</text>
<text x="1547.00" y="899.30" font-size="19.6" text-anchor="end" fill="#000">1.5</text>
<text x="1547.00" y="971.03" font-size="19.6" text-anchor="end" fill="#000">1.0</text>
<text x="1547.00" y="1042.77" font-size="19.6" text-anchor="end" fill="#000">0.5</text>
<text x="1547.00" y="1114.50" font-size="19.6" text-anchor="end" fill="#000">0.0</text>
<line x1="1632.30" y1="1107.90" x2="1632.30" y2="1119.40" stroke="#000" stroke-width="2.1" stroke-linecap="butt"/>
<line x1="1730.30" y1="1107.90" x2="1730.30" y2="1119.40" stroke="#000" stroke-width="2.1" stroke-linecap="butt"/>
<line x1="1828.10" y1="1107.90" x2="1828.10" y2="1119.40" stroke="#000" stroke-width="2.1" stroke-linecap="butt"/>
<line x1="1925.80" y1="1107.90" x2="1925.80" y2="1119.40" stroke="#000" stroke-width="2.1" stroke-linecap="butt"/>
<text x="1635.60" y="1095.00" font-size="37" text-anchor="middle" fill="#fff">3</text>
<text x="1730.60" y="1092.70" font-size="37" text-anchor="middle" fill="#fff">3</text>
<text x="1829.60" y="1091.70" font-size="37" text-anchor="middle" fill="#fff">3</text>
<text x="1928.20" y="1094.00" font-size="37" text-anchor="middle" fill="#fff">3</text>
<text x="1565.00" y="1154.80" font-size="27" text-anchor="end" fill="#000">PE</text>
<text x="1565.10" y="1187.10" font-size="26.9" text-anchor="end" fill="#000">Ad-PPP2CA</text>
<text x="1630.70" y="1156.66" font-size="30.0" text-anchor="middle" fill="#000">-</text>
<text x="1630.70" y="1188.16" font-size="30.0" text-anchor="middle" fill="#000">-</text>
<text x="1732.50" y="1156.66" font-size="30.0" text-anchor="middle" fill="#000">-</text>
<text x="1731.10" y="1187.50" font-size="27.5" text-anchor="middle" fill="#000">+</text>
<text x="1826.90" y="1156.00" font-size="27.5" text-anchor="middle" fill="#000">+</text>
<text x="1826.90" y="1184.16" font-size="30.0" text-anchor="middle" fill="#000">-</text>
<text x="1924.80" y="1156.00" font-size="27.5" text-anchor="middle" fill="#000">+</text>
<text x="1924.80" y="1187.50" font-size="27.5" text-anchor="middle" fill="#000">+</text>
<line x1="1633.10" y1="749.10" x2="1817.90" y2="749.10" stroke="#000" stroke-width="2.3" stroke-linecap="round"/>
<line x1="1838.30" y1="749.10" x2="1925.60" y2="749.10" stroke="#000" stroke-width="2.3" stroke-linecap="round"/>
<line x1="1633.10" y1="821.10" x2="1730.10" y2="821.10" stroke="#000" stroke-width="2.3" stroke-linecap="round"/>
<text transform="translate(1734.20 748.52) scale(1 1.1)" font-family="'Liberation Serif', serif" font-size="35.7" text-anchor="middle" fill="#000">***</text>
<text x="1883.45" y="738.20" font-size="21" text-anchor="middle" fill="#000">@@@</text>
<text x="1682.80" y="814.00" font-size="26.6" text-anchor="middle" fill="#000">NS</text>
<text transform="translate(1469.80 895.50) rotate(-90)" font-size="30.2" text-anchor="middle" fill="#000"><tspan font-style="italic">Nppb/18s RNA</tspan> transcript amount</text>
<text transform="translate(1504.30 894.50) rotate(-90)" font-size="30.6" text-anchor="middle" fill="#000">(fold change)</text>
</svg>
</body></html>
